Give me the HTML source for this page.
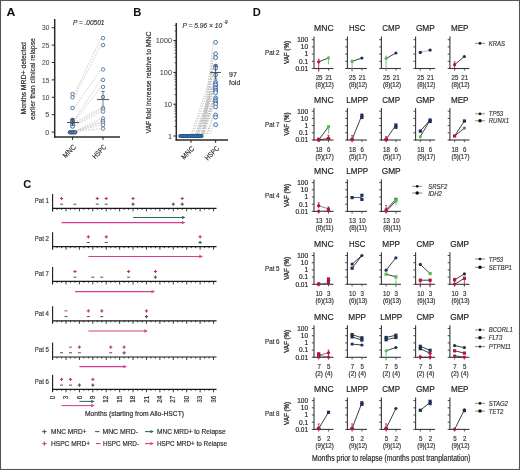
<!DOCTYPE html>
<html><head><meta charset="utf-8"><style>
html,body{margin:0;padding:0;background:#fff;}
body{width:520px;height:470px;overflow:hidden;}
svg{display:block;will-change:transform;filter:blur(0.35px);}
text{font-family:"Liberation Sans",sans-serif;}
</style></head><body>
<svg width="520" height="470" viewBox="0 0 520 470">
<rect x="0" y="0" width="520" height="470" fill="#fff"/>
<text x="6.60" y="16.40" font-size="11.3" text-anchor="start" fill="#111" font-weight="bold" textLength="8.9" lengthAdjust="spacingAndGlyphs">A</text>
<line x1="54.70" y1="19.00" x2="54.70" y2="137.70" stroke="#2b2b2b" stroke-width="1.5"/>
<line x1="54.00" y1="137.00" x2="120.00" y2="137.00" stroke="#2b2b2b" stroke-width="1.5"/>
<line x1="51.70" y1="132.10" x2="54.70" y2="132.10" stroke="#2b2b2b" stroke-width="1"/>
<text x="49.40" y="134.70" font-size="7.3" text-anchor="end" fill="#444" stroke="#444" stroke-width="0.05">0</text>
<line x1="51.70" y1="114.70" x2="54.70" y2="114.70" stroke="#2b2b2b" stroke-width="1"/>
<text x="49.40" y="117.30" font-size="7.3" text-anchor="end" fill="#444" stroke="#444" stroke-width="0.05">5</text>
<line x1="51.70" y1="97.30" x2="54.70" y2="97.30" stroke="#2b2b2b" stroke-width="1"/>
<text x="49.40" y="99.90" font-size="7.3" text-anchor="end" fill="#444" textLength="7.4" lengthAdjust="spacingAndGlyphs" stroke="#444" stroke-width="0.05">10</text>
<line x1="51.70" y1="79.90" x2="54.70" y2="79.90" stroke="#2b2b2b" stroke-width="1"/>
<text x="49.40" y="82.50" font-size="7.3" text-anchor="end" fill="#444" textLength="7.4" lengthAdjust="spacingAndGlyphs" stroke="#444" stroke-width="0.05">15</text>
<line x1="51.70" y1="62.50" x2="54.70" y2="62.50" stroke="#2b2b2b" stroke-width="1"/>
<text x="49.40" y="65.10" font-size="7.3" text-anchor="end" fill="#444" textLength="7.4" lengthAdjust="spacingAndGlyphs" stroke="#444" stroke-width="0.05">20</text>
<line x1="51.70" y1="45.10" x2="54.70" y2="45.10" stroke="#2b2b2b" stroke-width="1"/>
<text x="49.40" y="47.70" font-size="7.3" text-anchor="end" fill="#444" textLength="7.4" lengthAdjust="spacingAndGlyphs" stroke="#444" stroke-width="0.05">25</text>
<line x1="51.70" y1="27.70" x2="54.70" y2="27.70" stroke="#2b2b2b" stroke-width="1"/>
<text x="49.40" y="30.30" font-size="7.3" text-anchor="end" fill="#444" textLength="7.4" lengthAdjust="spacingAndGlyphs" stroke="#444" stroke-width="0.05">30</text>
<text x="25.60" y="78.40" font-size="7.9" text-anchor="middle" fill="#2a2a2a" textLength="72.4" lengthAdjust="spacingAndGlyphs" transform="rotate(-90 25.6 78.4)" stroke="#2a2a2a" stroke-width="0.18">Months MRD+ detected</text>
<text x="34.80" y="79.00" font-size="7.9" text-anchor="middle" fill="#2a2a2a" textLength="81.9" lengthAdjust="spacingAndGlyphs" transform="rotate(-90 34.8 79)" stroke="#2a2a2a" stroke-width="0.18">earlier than clinical relapse</text>
<text x="73.00" y="25.00" font-size="7" text-anchor="start" fill="#333" font-style="italic" textLength="31.4" lengthAdjust="spacingAndGlyphs" stroke="#333" stroke-width="0.18">P = .00501</text>
<line x1="74.50" y1="93.67" x2="101.00" y2="38.14" stroke="#c2c2c2" stroke-width="0.8" stroke-dasharray="1.6 1.1"/>
<line x1="74.50" y1="96.80" x2="101.00" y2="45.10" stroke="#c2c2c2" stroke-width="0.8" stroke-dasharray="1.6 1.1"/>
<line x1="74.50" y1="107.41" x2="101.00" y2="69.46" stroke="#c2c2c2" stroke-width="0.8" stroke-dasharray="1.6 1.1"/>
<line x1="74.50" y1="119.42" x2="101.00" y2="79.90" stroke="#c2c2c2" stroke-width="0.8" stroke-dasharray="1.6 1.1"/>
<line x1="74.50" y1="121.16" x2="101.00" y2="86.86" stroke="#c2c2c2" stroke-width="0.8" stroke-dasharray="1.6 1.1"/>
<line x1="74.50" y1="122.90" x2="101.00" y2="107.91" stroke="#c2c2c2" stroke-width="0.8" stroke-dasharray="1.6 1.1"/>
<line x1="74.50" y1="124.64" x2="101.00" y2="109.48" stroke="#c2c2c2" stroke-width="0.8" stroke-dasharray="1.6 1.1"/>
<line x1="74.50" y1="126.03" x2="101.00" y2="111.57" stroke="#c2c2c2" stroke-width="0.8" stroke-dasharray="1.6 1.1"/>
<line x1="74.50" y1="131.60" x2="101.00" y2="118.53" stroke="#c2c2c2" stroke-width="0.8" stroke-dasharray="1.6 1.1"/>
<line x1="74.50" y1="131.60" x2="101.00" y2="120.96" stroke="#c2c2c2" stroke-width="0.8" stroke-dasharray="1.6 1.1"/>
<line x1="74.50" y1="131.60" x2="101.00" y2="122.70" stroke="#c2c2c2" stroke-width="0.8" stroke-dasharray="1.6 1.1"/>
<line x1="74.50" y1="131.60" x2="101.00" y2="124.90" stroke="#c2c2c2" stroke-width="0.8" stroke-dasharray="1.6 1.1"/>
<line x1="74.50" y1="131.60" x2="101.00" y2="128.62" stroke="#c2c2c2" stroke-width="0.8" stroke-dasharray="1.6 1.1"/>
<circle cx="69.90" cy="132.30" r="1.75" fill="#6d8db3" stroke="#2d4f78" stroke-width="1"/>
<circle cx="71.60" cy="132.30" r="1.75" fill="#6d8db3" stroke="#2d4f78" stroke-width="1"/>
<circle cx="73.40" cy="132.30" r="1.75" fill="#6d8db3" stroke="#2d4f78" stroke-width="1"/>
<circle cx="75.10" cy="132.30" r="1.75" fill="#6d8db3" stroke="#2d4f78" stroke-width="1"/>
<circle cx="72.50" cy="94.17" r="1.75" fill="white" stroke="#55759c" stroke-width="1"/>
<circle cx="72.50" cy="97.30" r="1.75" fill="white" stroke="#55759c" stroke-width="1"/>
<circle cx="72.50" cy="107.91" r="1.75" fill="white" stroke="#55759c" stroke-width="1"/>
<circle cx="72.50" cy="119.92" r="1.75" fill="white" stroke="#3a5a80" stroke-width="1"/>
<circle cx="72.50" cy="120.96" r="1.75" fill="white" stroke="#3a5a80" stroke-width="1"/>
<circle cx="72.50" cy="122.01" r="1.75" fill="white" stroke="#3a5a80" stroke-width="1"/>
<circle cx="72.50" cy="123.40" r="1.75" fill="white" stroke="#3a5a80" stroke-width="1"/>
<circle cx="72.50" cy="124.79" r="1.75" fill="white" stroke="#3a5a80" stroke-width="1"/>
<circle cx="72.50" cy="126.53" r="1.75" fill="white" stroke="#3a5a80" stroke-width="1"/>
<circle cx="103.00" cy="38.14" r="1.75" fill="white" stroke="#55759c" stroke-width="0.9"/>
<circle cx="103.00" cy="45.10" r="1.75" fill="white" stroke="#55759c" stroke-width="0.9"/>
<circle cx="103.00" cy="69.46" r="1.75" fill="white" stroke="#55759c" stroke-width="0.9"/>
<circle cx="103.00" cy="79.90" r="1.75" fill="white" stroke="#55759c" stroke-width="0.9"/>
<circle cx="103.00" cy="86.86" r="1.75" fill="white" stroke="#55759c" stroke-width="0.9"/>
<circle cx="103.00" cy="97.09" r="1.75" fill="white" stroke="#55759c" stroke-width="0.9"/>
<circle cx="103.00" cy="107.91" r="1.75" fill="white" stroke="#55759c" stroke-width="0.9"/>
<circle cx="103.00" cy="109.48" r="1.75" fill="white" stroke="#55759c" stroke-width="0.9"/>
<circle cx="103.00" cy="111.57" r="1.75" fill="white" stroke="#55759c" stroke-width="0.9"/>
<circle cx="103.00" cy="118.53" r="1.75" fill="white" stroke="#55759c" stroke-width="0.9"/>
<circle cx="103.00" cy="120.96" r="1.75" fill="white" stroke="#55759c" stroke-width="0.9"/>
<circle cx="103.00" cy="122.70" r="1.75" fill="white" stroke="#55759c" stroke-width="0.9"/>
<circle cx="103.00" cy="124.90" r="1.75" fill="white" stroke="#55759c" stroke-width="0.9"/>
<circle cx="103.00" cy="128.62" r="1.75" fill="white" stroke="#55759c" stroke-width="0.9"/>
<line x1="66.90" y1="122.50" x2="79.00" y2="122.50" stroke="#3a4352" stroke-width="0.9"/>
<line x1="72.50" y1="126.18" x2="72.50" y2="118.88" stroke="#3a4352" stroke-width="0.8"/>
<line x1="70.70" y1="118.88" x2="74.30" y2="118.88" stroke="#3a4352" stroke-width="0.8"/>
<line x1="97.00" y1="99.60" x2="109.10" y2="99.60" stroke="#3a4352" stroke-width="0.9"/>
<line x1="103.00" y1="91.40" x2="103.00" y2="106.00" stroke="#556070" stroke-width="0.8"/>
<line x1="101.20" y1="91.40" x2="104.80" y2="91.40" stroke="#556070" stroke-width="0.9"/>
<line x1="72.50" y1="137.00" x2="72.50" y2="139.80" stroke="#2b2b2b" stroke-width="1.1"/>
<line x1="103.00" y1="137.00" x2="103.00" y2="139.80" stroke="#2b2b2b" stroke-width="1.1"/>
<text x="76.40" y="147.50" font-size="7.2" text-anchor="end" fill="#333" textLength="15.5" lengthAdjust="spacingAndGlyphs" transform="rotate(-45 76.4 147.5)" stroke="#333" stroke-width="0.18">MNC</text>
<text x="106.90" y="147.50" font-size="7.2" text-anchor="end" fill="#333" textLength="16.5" lengthAdjust="spacingAndGlyphs" transform="rotate(-45 106.9 147.5)" stroke="#333" stroke-width="0.18">HSPC</text>
<text x="133.20" y="16.30" font-size="11.2" text-anchor="start" fill="#111" font-weight="bold">B</text>
<line x1="176.30" y1="23.00" x2="176.30" y2="140.70" stroke="#2b2b2b" stroke-width="1.5"/>
<line x1="175.60" y1="140.00" x2="228.00" y2="140.00" stroke="#2b2b2b" stroke-width="1.5"/>
<line x1="173.30" y1="136.00" x2="176.30" y2="136.00" stroke="#2b2b2b" stroke-width="1"/>
<text x="172.00" y="138.60" font-size="7.3" text-anchor="end" fill="#444" stroke="#444" stroke-width="0.05">1</text>
<line x1="174.50" y1="126.43" x2="176.30" y2="126.43" stroke="#2b2b2b" stroke-width="0.7"/>
<line x1="174.50" y1="120.83" x2="176.30" y2="120.83" stroke="#2b2b2b" stroke-width="0.7"/>
<line x1="174.50" y1="116.85" x2="176.30" y2="116.85" stroke="#2b2b2b" stroke-width="0.7"/>
<line x1="174.50" y1="113.77" x2="176.30" y2="113.77" stroke="#2b2b2b" stroke-width="0.7"/>
<line x1="174.50" y1="111.25" x2="176.30" y2="111.25" stroke="#2b2b2b" stroke-width="0.7"/>
<line x1="174.50" y1="109.13" x2="176.30" y2="109.13" stroke="#2b2b2b" stroke-width="0.7"/>
<line x1="174.50" y1="107.28" x2="176.30" y2="107.28" stroke="#2b2b2b" stroke-width="0.7"/>
<line x1="174.50" y1="105.66" x2="176.30" y2="105.66" stroke="#2b2b2b" stroke-width="0.7"/>
<line x1="173.30" y1="104.20" x2="176.30" y2="104.20" stroke="#2b2b2b" stroke-width="1"/>
<text x="172.00" y="106.80" font-size="7.3" text-anchor="end" fill="#444" stroke="#444" stroke-width="0.05">10</text>
<line x1="174.50" y1="94.63" x2="176.30" y2="94.63" stroke="#2b2b2b" stroke-width="0.7"/>
<line x1="174.50" y1="89.03" x2="176.30" y2="89.03" stroke="#2b2b2b" stroke-width="0.7"/>
<line x1="174.50" y1="85.05" x2="176.30" y2="85.05" stroke="#2b2b2b" stroke-width="0.7"/>
<line x1="174.50" y1="81.97" x2="176.30" y2="81.97" stroke="#2b2b2b" stroke-width="0.7"/>
<line x1="174.50" y1="79.45" x2="176.30" y2="79.45" stroke="#2b2b2b" stroke-width="0.7"/>
<line x1="174.50" y1="77.33" x2="176.30" y2="77.33" stroke="#2b2b2b" stroke-width="0.7"/>
<line x1="174.50" y1="75.48" x2="176.30" y2="75.48" stroke="#2b2b2b" stroke-width="0.7"/>
<line x1="174.50" y1="73.86" x2="176.30" y2="73.86" stroke="#2b2b2b" stroke-width="0.7"/>
<line x1="173.30" y1="72.40" x2="176.30" y2="72.40" stroke="#2b2b2b" stroke-width="1"/>
<text x="172.00" y="75.00" font-size="7.3" text-anchor="end" fill="#444" stroke="#444" stroke-width="0.05">100</text>
<line x1="174.50" y1="62.83" x2="176.30" y2="62.83" stroke="#2b2b2b" stroke-width="0.7"/>
<line x1="174.50" y1="57.23" x2="176.30" y2="57.23" stroke="#2b2b2b" stroke-width="0.7"/>
<line x1="174.50" y1="53.25" x2="176.30" y2="53.25" stroke="#2b2b2b" stroke-width="0.7"/>
<line x1="174.50" y1="50.17" x2="176.30" y2="50.17" stroke="#2b2b2b" stroke-width="0.7"/>
<line x1="174.50" y1="47.65" x2="176.30" y2="47.65" stroke="#2b2b2b" stroke-width="0.7"/>
<line x1="174.50" y1="45.53" x2="176.30" y2="45.53" stroke="#2b2b2b" stroke-width="0.7"/>
<line x1="174.50" y1="43.68" x2="176.30" y2="43.68" stroke="#2b2b2b" stroke-width="0.7"/>
<line x1="174.50" y1="42.06" x2="176.30" y2="42.06" stroke="#2b2b2b" stroke-width="0.7"/>
<line x1="173.30" y1="40.60" x2="176.30" y2="40.60" stroke="#2b2b2b" stroke-width="1"/>
<text x="172.00" y="43.20" font-size="7.3" text-anchor="end" fill="#444" stroke="#444" stroke-width="0.05">1000</text>
<line x1="174.50" y1="31.03" x2="176.30" y2="31.03" stroke="#2b2b2b" stroke-width="0.7"/>
<line x1="174.50" y1="25.43" x2="176.30" y2="25.43" stroke="#2b2b2b" stroke-width="0.7"/>
<text x="150.90" y="82.60" font-size="7.9" text-anchor="middle" fill="#2a2a2a" textLength="102" lengthAdjust="spacingAndGlyphs" transform="rotate(-90 150.9 82.6)" stroke="#2a2a2a" stroke-width="0.18">VAF fold increase relative to MNC</text>
<text x="182.60" y="27.60" font-size="6.8" text-anchor="start" fill="#3a3a3a" font-style="italic" textLength="39.5" lengthAdjust="spacingAndGlyphs" stroke="#3a3a3a" stroke-width="0.18">P = 5.96 × 10</text>
<text x="223.40" y="23.60" font-size="4.5" text-anchor="start" fill="#3a3a3a" font-style="italic" stroke="#3a3a3a" stroke-width="0.18">-9</text>
<line x1="202.00" y1="134.00" x2="213.30" y2="42.30" stroke="#bdbdbd" stroke-width="0.9" stroke-dasharray="1.4 1.2"/>
<line x1="202.80" y1="134.00" x2="213.30" y2="53.78" stroke="#bdbdbd" stroke-width="0.9" stroke-dasharray="1.4 1.2"/>
<line x1="203.60" y1="134.00" x2="213.30" y2="57.60" stroke="#bdbdbd" stroke-width="0.9" stroke-dasharray="1.4 1.2"/>
<line x1="204.40" y1="134.00" x2="213.30" y2="66.08" stroke="#bdbdbd" stroke-width="0.9" stroke-dasharray="1.4 1.2"/>
<line x1="191.50" y1="134.00" x2="213.30" y2="68.15" stroke="#bdbdbd" stroke-width="0.9" stroke-dasharray="1.4 1.2"/>
<line x1="192.95" y1="134.00" x2="213.30" y2="74.97" stroke="#bdbdbd" stroke-width="0.9" stroke-dasharray="1.4 1.2"/>
<line x1="195.46" y1="134.00" x2="213.30" y2="82.25" stroke="#bdbdbd" stroke-width="0.9" stroke-dasharray="1.4 1.2"/>
<line x1="195.97" y1="134.00" x2="213.30" y2="83.74" stroke="#bdbdbd" stroke-width="0.9" stroke-dasharray="1.4 1.2"/>
<line x1="196.42" y1="134.00" x2="213.30" y2="85.05" stroke="#bdbdbd" stroke-width="0.9" stroke-dasharray="1.4 1.2"/>
<line x1="197.20" y1="134.00" x2="213.30" y2="87.30" stroke="#bdbdbd" stroke-width="0.9" stroke-dasharray="1.4 1.2"/>
<line x1="197.48" y1="134.00" x2="213.30" y2="88.14" stroke="#bdbdbd" stroke-width="0.9" stroke-dasharray="1.4 1.2"/>
<line x1="198.12" y1="134.00" x2="213.30" y2="89.98" stroke="#bdbdbd" stroke-width="0.9" stroke-dasharray="1.4 1.2"/>
<line x1="198.47" y1="134.00" x2="213.30" y2="91.00" stroke="#bdbdbd" stroke-width="0.9" stroke-dasharray="1.4 1.2"/>
<line x1="199.06" y1="134.00" x2="213.30" y2="92.70" stroke="#bdbdbd" stroke-width="0.9" stroke-dasharray="1.4 1.2"/>
<line x1="200.88" y1="134.00" x2="213.30" y2="97.97" stroke="#bdbdbd" stroke-width="0.9" stroke-dasharray="1.4 1.2"/>
<line x1="201.42" y1="134.00" x2="213.30" y2="99.55" stroke="#bdbdbd" stroke-width="0.9" stroke-dasharray="1.4 1.2"/>
<line x1="201.92" y1="134.00" x2="213.30" y2="101.01" stroke="#bdbdbd" stroke-width="0.9" stroke-dasharray="1.4 1.2"/>
<line x1="202.57" y1="134.00" x2="213.30" y2="102.88" stroke="#bdbdbd" stroke-width="0.9" stroke-dasharray="1.4 1.2"/>
<line x1="202.98" y1="134.00" x2="213.30" y2="104.06" stroke="#bdbdbd" stroke-width="0.9" stroke-dasharray="1.4 1.2"/>
<line x1="203.97" y1="134.00" x2="213.30" y2="106.94" stroke="#bdbdbd" stroke-width="0.9" stroke-dasharray="1.4 1.2"/>
<line x1="206.72" y1="134.00" x2="213.30" y2="114.92" stroke="#bdbdbd" stroke-width="0.9" stroke-dasharray="1.4 1.2"/>
<line x1="207.51" y1="134.00" x2="213.30" y2="117.20" stroke="#bdbdbd" stroke-width="0.9" stroke-dasharray="1.4 1.2"/>
<line x1="210.09" y1="134.00" x2="213.30" y2="124.68" stroke="#bdbdbd" stroke-width="0.9" stroke-dasharray="1.4 1.2"/>
<rect x="178.2" y="134" width="25.4" height="4" rx="2" fill="#22578f"/>
<circle cx="180.30" cy="136.00" r="0.7" fill="#4f80b5" stroke="none" stroke-width="1"/>
<circle cx="182.23" cy="136.00" r="0.7" fill="#4f80b5" stroke="none" stroke-width="1"/>
<circle cx="184.16" cy="136.00" r="0.7" fill="#4f80b5" stroke="none" stroke-width="1"/>
<circle cx="186.09" cy="136.00" r="0.7" fill="#4f80b5" stroke="none" stroke-width="1"/>
<circle cx="188.02" cy="136.00" r="0.7" fill="#4f80b5" stroke="none" stroke-width="1"/>
<circle cx="189.95" cy="136.00" r="0.7" fill="#4f80b5" stroke="none" stroke-width="1"/>
<circle cx="191.88" cy="136.00" r="0.7" fill="#4f80b5" stroke="none" stroke-width="1"/>
<circle cx="193.81" cy="136.00" r="0.7" fill="#4f80b5" stroke="none" stroke-width="1"/>
<circle cx="195.74" cy="136.00" r="0.7" fill="#4f80b5" stroke="none" stroke-width="1"/>
<circle cx="197.67" cy="136.00" r="0.7" fill="#4f80b5" stroke="none" stroke-width="1"/>
<circle cx="199.60" cy="136.00" r="0.7" fill="#4f80b5" stroke="none" stroke-width="1"/>
<circle cx="201.53" cy="136.00" r="0.7" fill="#4f80b5" stroke="none" stroke-width="1"/>
<circle cx="215.60" cy="42.30" r="1.9" fill="white" stroke="#3f6ea8" stroke-width="1"/>
<circle cx="215.60" cy="53.78" r="1.9" fill="white" stroke="#3f6ea8" stroke-width="1"/>
<circle cx="215.60" cy="57.60" r="1.9" fill="white" stroke="#3f6ea8" stroke-width="1"/>
<circle cx="215.60" cy="66.08" r="1.9" fill="white" stroke="#3f6ea8" stroke-width="1"/>
<circle cx="215.60" cy="68.15" r="1.9" fill="white" stroke="#3f6ea8" stroke-width="1"/>
<circle cx="215.60" cy="74.97" r="1.9" fill="white" stroke="#3f6ea8" stroke-width="1"/>
<circle cx="215.60" cy="82.25" r="1.9" fill="white" stroke="#3f6ea8" stroke-width="1"/>
<circle cx="215.60" cy="83.74" r="1.9" fill="white" stroke="#3f6ea8" stroke-width="1"/>
<circle cx="215.60" cy="85.05" r="1.9" fill="white" stroke="#3f6ea8" stroke-width="1"/>
<circle cx="215.60" cy="87.30" r="1.9" fill="white" stroke="#3f6ea8" stroke-width="1"/>
<circle cx="215.60" cy="88.14" r="1.9" fill="white" stroke="#3f6ea8" stroke-width="1"/>
<circle cx="215.60" cy="89.98" r="1.9" fill="white" stroke="#3f6ea8" stroke-width="1"/>
<circle cx="215.60" cy="91.00" r="1.9" fill="white" stroke="#3f6ea8" stroke-width="1"/>
<circle cx="215.60" cy="92.70" r="1.9" fill="white" stroke="#3f6ea8" stroke-width="1"/>
<circle cx="215.60" cy="97.97" r="1.9" fill="white" stroke="#3f6ea8" stroke-width="1"/>
<circle cx="215.60" cy="99.55" r="1.9" fill="white" stroke="#3f6ea8" stroke-width="1"/>
<circle cx="215.60" cy="101.01" r="1.9" fill="white" stroke="#3f6ea8" stroke-width="1"/>
<circle cx="215.60" cy="102.88" r="1.9" fill="white" stroke="#3f6ea8" stroke-width="1"/>
<circle cx="215.60" cy="104.06" r="1.9" fill="white" stroke="#3f6ea8" stroke-width="1"/>
<circle cx="215.60" cy="106.94" r="1.9" fill="white" stroke="#3f6ea8" stroke-width="1"/>
<circle cx="215.60" cy="114.92" r="1.9" fill="white" stroke="#3f6ea8" stroke-width="1"/>
<circle cx="215.60" cy="117.20" r="1.9" fill="white" stroke="#3f6ea8" stroke-width="1"/>
<circle cx="215.60" cy="124.68" r="1.9" fill="white" stroke="#3f6ea8" stroke-width="1"/>
<line x1="210.20" y1="72.50" x2="220.90" y2="72.50" stroke="#3a4352" stroke-width="0.9"/>
<line x1="215.60" y1="65.00" x2="215.60" y2="79.00" stroke="#3a4a60" stroke-width="0.9"/>
<line x1="213.80" y1="65.00" x2="217.40" y2="65.00" stroke="#3a4a60" stroke-width="0.9"/>
<line x1="213.80" y1="79.00" x2="217.40" y2="79.00" stroke="#3a4a60" stroke-width="0.9"/>
<text x="229.00" y="76.80" font-size="7" text-anchor="start" fill="#333" stroke="#333" stroke-width="0.18">97</text>
<text x="229.00" y="84.50" font-size="7" text-anchor="start" fill="#333" stroke="#333" stroke-width="0.18">fold</text>
<line x1="191.00" y1="140.00" x2="191.00" y2="142.80" stroke="#2b2b2b" stroke-width="1.1"/>
<line x1="215.60" y1="140.00" x2="215.60" y2="142.80" stroke="#2b2b2b" stroke-width="1.1"/>
<text x="194.90" y="149.00" font-size="7.2" text-anchor="end" fill="#333" textLength="15.5" lengthAdjust="spacingAndGlyphs" transform="rotate(-45 194.9 149)" stroke="#333" stroke-width="0.18">MNC</text>
<text x="219.50" y="149.00" font-size="7.2" text-anchor="end" fill="#333" textLength="16.5" lengthAdjust="spacingAndGlyphs" transform="rotate(-45 219.5 149)" stroke="#333" stroke-width="0.18">HSPC</text>
<text x="23.30" y="187.90" font-size="11.2" text-anchor="start" fill="#111" font-weight="bold">C</text>
<line x1="52.60" y1="193.90" x2="52.60" y2="211.40" stroke="#1a1a1a" stroke-width="1.1"/>
<line x1="52.10" y1="208.40" x2="216.52" y2="208.40" stroke="#1a1a1a" stroke-width="1.2"/>
<line x1="57.07" y1="208.40" x2="57.07" y2="209.90" stroke="#1a1a1a" stroke-width="0.85"/>
<line x1="61.54" y1="208.40" x2="61.54" y2="209.90" stroke="#1a1a1a" stroke-width="0.85"/>
<line x1="66.01" y1="208.40" x2="66.01" y2="211.40" stroke="#1a1a1a" stroke-width="0.85"/>
<line x1="70.48" y1="208.40" x2="70.48" y2="209.90" stroke="#1a1a1a" stroke-width="0.85"/>
<line x1="74.95" y1="208.40" x2="74.95" y2="209.90" stroke="#1a1a1a" stroke-width="0.85"/>
<line x1="79.42" y1="208.40" x2="79.42" y2="211.40" stroke="#1a1a1a" stroke-width="0.85"/>
<line x1="83.89" y1="208.40" x2="83.89" y2="209.90" stroke="#1a1a1a" stroke-width="0.85"/>
<line x1="88.36" y1="208.40" x2="88.36" y2="209.90" stroke="#1a1a1a" stroke-width="0.85"/>
<line x1="92.83" y1="208.40" x2="92.83" y2="211.40" stroke="#1a1a1a" stroke-width="0.85"/>
<line x1="97.30" y1="208.40" x2="97.30" y2="209.90" stroke="#1a1a1a" stroke-width="0.85"/>
<line x1="101.77" y1="208.40" x2="101.77" y2="209.90" stroke="#1a1a1a" stroke-width="0.85"/>
<line x1="106.24" y1="208.40" x2="106.24" y2="211.40" stroke="#1a1a1a" stroke-width="0.85"/>
<line x1="110.71" y1="208.40" x2="110.71" y2="209.90" stroke="#1a1a1a" stroke-width="0.85"/>
<line x1="115.18" y1="208.40" x2="115.18" y2="209.90" stroke="#1a1a1a" stroke-width="0.85"/>
<line x1="119.65" y1="208.40" x2="119.65" y2="211.40" stroke="#1a1a1a" stroke-width="0.85"/>
<line x1="124.12" y1="208.40" x2="124.12" y2="209.90" stroke="#1a1a1a" stroke-width="0.85"/>
<line x1="128.59" y1="208.40" x2="128.59" y2="209.90" stroke="#1a1a1a" stroke-width="0.85"/>
<line x1="133.06" y1="208.40" x2="133.06" y2="211.40" stroke="#1a1a1a" stroke-width="0.85"/>
<line x1="137.53" y1="208.40" x2="137.53" y2="209.90" stroke="#1a1a1a" stroke-width="0.85"/>
<line x1="142.00" y1="208.40" x2="142.00" y2="209.90" stroke="#1a1a1a" stroke-width="0.85"/>
<line x1="146.47" y1="208.40" x2="146.47" y2="211.40" stroke="#1a1a1a" stroke-width="0.85"/>
<line x1="150.94" y1="208.40" x2="150.94" y2="209.90" stroke="#1a1a1a" stroke-width="0.85"/>
<line x1="155.41" y1="208.40" x2="155.41" y2="209.90" stroke="#1a1a1a" stroke-width="0.85"/>
<line x1="159.88" y1="208.40" x2="159.88" y2="211.40" stroke="#1a1a1a" stroke-width="0.85"/>
<line x1="164.35" y1="208.40" x2="164.35" y2="209.90" stroke="#1a1a1a" stroke-width="0.85"/>
<line x1="168.82" y1="208.40" x2="168.82" y2="209.90" stroke="#1a1a1a" stroke-width="0.85"/>
<line x1="173.29" y1="208.40" x2="173.29" y2="211.40" stroke="#1a1a1a" stroke-width="0.85"/>
<line x1="177.76" y1="208.40" x2="177.76" y2="209.90" stroke="#1a1a1a" stroke-width="0.85"/>
<line x1="182.23" y1="208.40" x2="182.23" y2="209.90" stroke="#1a1a1a" stroke-width="0.85"/>
<line x1="186.70" y1="208.40" x2="186.70" y2="211.40" stroke="#1a1a1a" stroke-width="0.85"/>
<line x1="191.17" y1="208.40" x2="191.17" y2="209.90" stroke="#1a1a1a" stroke-width="0.85"/>
<line x1="195.64" y1="208.40" x2="195.64" y2="209.90" stroke="#1a1a1a" stroke-width="0.85"/>
<line x1="200.11" y1="208.40" x2="200.11" y2="211.40" stroke="#1a1a1a" stroke-width="0.85"/>
<line x1="204.58" y1="208.40" x2="204.58" y2="209.90" stroke="#1a1a1a" stroke-width="0.85"/>
<line x1="209.05" y1="208.40" x2="209.05" y2="209.90" stroke="#1a1a1a" stroke-width="0.85"/>
<line x1="213.52" y1="208.40" x2="213.52" y2="211.40" stroke="#1a1a1a" stroke-width="0.85"/>
<text x="49.00" y="203.10" font-size="6.8" text-anchor="end" fill="#3a3a3a" textLength="14.2" lengthAdjust="spacingAndGlyphs" stroke="#3a3a3a" stroke-width="0.18">Pat 1</text>
<line x1="59.94" y1="198.50" x2="63.14" y2="198.50" stroke="#c2306f" stroke-width="1.1"/>
<line x1="61.54" y1="196.90" x2="61.54" y2="200.10" stroke="#c2306f" stroke-width="1.1"/>
<line x1="60.04" y1="204.20" x2="63.04" y2="204.20" stroke="#3a5a50" stroke-width="1"/>
<line x1="73.45" y1="204.20" x2="76.45" y2="204.20" stroke="#3a5a50" stroke-width="1"/>
<line x1="95.70" y1="198.50" x2="98.90" y2="198.50" stroke="#c2306f" stroke-width="1.1"/>
<line x1="97.30" y1="196.90" x2="97.30" y2="200.10" stroke="#c2306f" stroke-width="1.1"/>
<line x1="95.80" y1="204.20" x2="98.80" y2="204.20" stroke="#3a5a50" stroke-width="1"/>
<line x1="104.64" y1="198.50" x2="107.84" y2="198.50" stroke="#c2306f" stroke-width="1.1"/>
<line x1="106.24" y1="196.90" x2="106.24" y2="200.10" stroke="#c2306f" stroke-width="1.1"/>
<line x1="104.74" y1="204.20" x2="107.74" y2="204.20" stroke="#3a5a50" stroke-width="1"/>
<line x1="131.46" y1="198.50" x2="134.66" y2="198.50" stroke="#c2306f" stroke-width="1.1"/>
<line x1="133.06" y1="196.90" x2="133.06" y2="200.10" stroke="#c2306f" stroke-width="1.1"/>
<line x1="131.46" y1="204.20" x2="134.66" y2="204.20" stroke="#3a5a50" stroke-width="1.1"/>
<line x1="133.06" y1="202.60" x2="133.06" y2="205.80" stroke="#3a5a50" stroke-width="1.1"/>
<line x1="171.69" y1="204.20" x2="174.89" y2="204.20" stroke="#3a5a50" stroke-width="1.1"/>
<line x1="173.29" y1="202.60" x2="173.29" y2="205.80" stroke="#3a5a50" stroke-width="1.1"/>
<line x1="180.63" y1="198.50" x2="183.83" y2="198.50" stroke="#c2306f" stroke-width="1.1"/>
<line x1="182.23" y1="196.90" x2="182.23" y2="200.10" stroke="#c2306f" stroke-width="1.1"/>
<line x1="180.63" y1="204.20" x2="183.83" y2="204.20" stroke="#3a5a50" stroke-width="1.1"/>
<line x1="182.23" y1="202.60" x2="182.23" y2="205.80" stroke="#3a5a50" stroke-width="1.1"/>
<line x1="133.06" y1="217.50" x2="182.91" y2="217.50" stroke="#2f6a58" stroke-width="1.05"/>
<path d="M185.51 217.50 L181.91 215.80 L181.91 219.20 Z" fill="#2f6a58"/>
<line x1="61.54" y1="222.60" x2="182.91" y2="222.60" stroke="#d83c8c" stroke-width="1.05"/>
<path d="M185.51 222.60 L181.91 220.90 L181.91 224.30 Z" fill="#d83c8c"/>
<line x1="52.60" y1="232.20" x2="52.60" y2="249.70" stroke="#1a1a1a" stroke-width="1.1"/>
<line x1="52.10" y1="246.70" x2="216.52" y2="246.70" stroke="#1a1a1a" stroke-width="1.2"/>
<line x1="57.07" y1="246.70" x2="57.07" y2="248.20" stroke="#1a1a1a" stroke-width="0.85"/>
<line x1="61.54" y1="246.70" x2="61.54" y2="248.20" stroke="#1a1a1a" stroke-width="0.85"/>
<line x1="66.01" y1="246.70" x2="66.01" y2="249.70" stroke="#1a1a1a" stroke-width="0.85"/>
<line x1="70.48" y1="246.70" x2="70.48" y2="248.20" stroke="#1a1a1a" stroke-width="0.85"/>
<line x1="74.95" y1="246.70" x2="74.95" y2="248.20" stroke="#1a1a1a" stroke-width="0.85"/>
<line x1="79.42" y1="246.70" x2="79.42" y2="249.70" stroke="#1a1a1a" stroke-width="0.85"/>
<line x1="83.89" y1="246.70" x2="83.89" y2="248.20" stroke="#1a1a1a" stroke-width="0.85"/>
<line x1="88.36" y1="246.70" x2="88.36" y2="248.20" stroke="#1a1a1a" stroke-width="0.85"/>
<line x1="92.83" y1="246.70" x2="92.83" y2="249.70" stroke="#1a1a1a" stroke-width="0.85"/>
<line x1="97.30" y1="246.70" x2="97.30" y2="248.20" stroke="#1a1a1a" stroke-width="0.85"/>
<line x1="101.77" y1="246.70" x2="101.77" y2="248.20" stroke="#1a1a1a" stroke-width="0.85"/>
<line x1="106.24" y1="246.70" x2="106.24" y2="249.70" stroke="#1a1a1a" stroke-width="0.85"/>
<line x1="110.71" y1="246.70" x2="110.71" y2="248.20" stroke="#1a1a1a" stroke-width="0.85"/>
<line x1="115.18" y1="246.70" x2="115.18" y2="248.20" stroke="#1a1a1a" stroke-width="0.85"/>
<line x1="119.65" y1="246.70" x2="119.65" y2="249.70" stroke="#1a1a1a" stroke-width="0.85"/>
<line x1="124.12" y1="246.70" x2="124.12" y2="248.20" stroke="#1a1a1a" stroke-width="0.85"/>
<line x1="128.59" y1="246.70" x2="128.59" y2="248.20" stroke="#1a1a1a" stroke-width="0.85"/>
<line x1="133.06" y1="246.70" x2="133.06" y2="249.70" stroke="#1a1a1a" stroke-width="0.85"/>
<line x1="137.53" y1="246.70" x2="137.53" y2="248.20" stroke="#1a1a1a" stroke-width="0.85"/>
<line x1="142.00" y1="246.70" x2="142.00" y2="248.20" stroke="#1a1a1a" stroke-width="0.85"/>
<line x1="146.47" y1="246.70" x2="146.47" y2="249.70" stroke="#1a1a1a" stroke-width="0.85"/>
<line x1="150.94" y1="246.70" x2="150.94" y2="248.20" stroke="#1a1a1a" stroke-width="0.85"/>
<line x1="155.41" y1="246.70" x2="155.41" y2="248.20" stroke="#1a1a1a" stroke-width="0.85"/>
<line x1="159.88" y1="246.70" x2="159.88" y2="249.70" stroke="#1a1a1a" stroke-width="0.85"/>
<line x1="164.35" y1="246.70" x2="164.35" y2="248.20" stroke="#1a1a1a" stroke-width="0.85"/>
<line x1="168.82" y1="246.70" x2="168.82" y2="248.20" stroke="#1a1a1a" stroke-width="0.85"/>
<line x1="173.29" y1="246.70" x2="173.29" y2="249.70" stroke="#1a1a1a" stroke-width="0.85"/>
<line x1="177.76" y1="246.70" x2="177.76" y2="248.20" stroke="#1a1a1a" stroke-width="0.85"/>
<line x1="182.23" y1="246.70" x2="182.23" y2="248.20" stroke="#1a1a1a" stroke-width="0.85"/>
<line x1="186.70" y1="246.70" x2="186.70" y2="249.70" stroke="#1a1a1a" stroke-width="0.85"/>
<line x1="191.17" y1="246.70" x2="191.17" y2="248.20" stroke="#1a1a1a" stroke-width="0.85"/>
<line x1="195.64" y1="246.70" x2="195.64" y2="248.20" stroke="#1a1a1a" stroke-width="0.85"/>
<line x1="200.11" y1="246.70" x2="200.11" y2="249.70" stroke="#1a1a1a" stroke-width="0.85"/>
<line x1="204.58" y1="246.70" x2="204.58" y2="248.20" stroke="#1a1a1a" stroke-width="0.85"/>
<line x1="209.05" y1="246.70" x2="209.05" y2="248.20" stroke="#1a1a1a" stroke-width="0.85"/>
<line x1="213.52" y1="246.70" x2="213.52" y2="249.70" stroke="#1a1a1a" stroke-width="0.85"/>
<text x="49.00" y="241.40" font-size="6.8" text-anchor="end" fill="#3a3a3a" textLength="14.2" lengthAdjust="spacingAndGlyphs" stroke="#3a3a3a" stroke-width="0.18">Pat 2</text>
<line x1="86.76" y1="236.80" x2="89.96" y2="236.80" stroke="#c2306f" stroke-width="1.1"/>
<line x1="88.36" y1="235.20" x2="88.36" y2="238.40" stroke="#c2306f" stroke-width="1.1"/>
<line x1="86.86" y1="242.50" x2="89.86" y2="242.50" stroke="#3a5a50" stroke-width="1"/>
<line x1="104.64" y1="236.80" x2="107.84" y2="236.80" stroke="#c2306f" stroke-width="1.1"/>
<line x1="106.24" y1="235.20" x2="106.24" y2="238.40" stroke="#c2306f" stroke-width="1.1"/>
<line x1="104.74" y1="242.50" x2="107.74" y2="242.50" stroke="#3a5a50" stroke-width="1"/>
<line x1="198.51" y1="236.80" x2="201.71" y2="236.80" stroke="#c2306f" stroke-width="1.1"/>
<line x1="200.11" y1="235.20" x2="200.11" y2="238.40" stroke="#c2306f" stroke-width="1.1"/>
<line x1="198.51" y1="242.50" x2="201.71" y2="242.50" stroke="#3a5a50" stroke-width="1.1"/>
<line x1="200.11" y1="240.90" x2="200.11" y2="244.10" stroke="#3a5a50" stroke-width="1.1"/>
<line x1="88.36" y1="256.50" x2="200.34" y2="256.50" stroke="#d83c8c" stroke-width="1.05"/>
<path d="M202.94 256.50 L199.34 254.80 L199.34 258.20 Z" fill="#d83c8c"/>
<line x1="52.60" y1="266.90" x2="52.60" y2="284.40" stroke="#1a1a1a" stroke-width="1.1"/>
<line x1="52.10" y1="281.40" x2="216.52" y2="281.40" stroke="#1a1a1a" stroke-width="1.2"/>
<line x1="57.07" y1="281.40" x2="57.07" y2="282.90" stroke="#1a1a1a" stroke-width="0.85"/>
<line x1="61.54" y1="281.40" x2="61.54" y2="282.90" stroke="#1a1a1a" stroke-width="0.85"/>
<line x1="66.01" y1="281.40" x2="66.01" y2="284.40" stroke="#1a1a1a" stroke-width="0.85"/>
<line x1="70.48" y1="281.40" x2="70.48" y2="282.90" stroke="#1a1a1a" stroke-width="0.85"/>
<line x1="74.95" y1="281.40" x2="74.95" y2="282.90" stroke="#1a1a1a" stroke-width="0.85"/>
<line x1="79.42" y1="281.40" x2="79.42" y2="284.40" stroke="#1a1a1a" stroke-width="0.85"/>
<line x1="83.89" y1="281.40" x2="83.89" y2="282.90" stroke="#1a1a1a" stroke-width="0.85"/>
<line x1="88.36" y1="281.40" x2="88.36" y2="282.90" stroke="#1a1a1a" stroke-width="0.85"/>
<line x1="92.83" y1="281.40" x2="92.83" y2="284.40" stroke="#1a1a1a" stroke-width="0.85"/>
<line x1="97.30" y1="281.40" x2="97.30" y2="282.90" stroke="#1a1a1a" stroke-width="0.85"/>
<line x1="101.77" y1="281.40" x2="101.77" y2="282.90" stroke="#1a1a1a" stroke-width="0.85"/>
<line x1="106.24" y1="281.40" x2="106.24" y2="284.40" stroke="#1a1a1a" stroke-width="0.85"/>
<line x1="110.71" y1="281.40" x2="110.71" y2="282.90" stroke="#1a1a1a" stroke-width="0.85"/>
<line x1="115.18" y1="281.40" x2="115.18" y2="282.90" stroke="#1a1a1a" stroke-width="0.85"/>
<line x1="119.65" y1="281.40" x2="119.65" y2="284.40" stroke="#1a1a1a" stroke-width="0.85"/>
<line x1="124.12" y1="281.40" x2="124.12" y2="282.90" stroke="#1a1a1a" stroke-width="0.85"/>
<line x1="128.59" y1="281.40" x2="128.59" y2="282.90" stroke="#1a1a1a" stroke-width="0.85"/>
<line x1="133.06" y1="281.40" x2="133.06" y2="284.40" stroke="#1a1a1a" stroke-width="0.85"/>
<line x1="137.53" y1="281.40" x2="137.53" y2="282.90" stroke="#1a1a1a" stroke-width="0.85"/>
<line x1="142.00" y1="281.40" x2="142.00" y2="282.90" stroke="#1a1a1a" stroke-width="0.85"/>
<line x1="146.47" y1="281.40" x2="146.47" y2="284.40" stroke="#1a1a1a" stroke-width="0.85"/>
<line x1="150.94" y1="281.40" x2="150.94" y2="282.90" stroke="#1a1a1a" stroke-width="0.85"/>
<line x1="155.41" y1="281.40" x2="155.41" y2="282.90" stroke="#1a1a1a" stroke-width="0.85"/>
<line x1="159.88" y1="281.40" x2="159.88" y2="284.40" stroke="#1a1a1a" stroke-width="0.85"/>
<line x1="164.35" y1="281.40" x2="164.35" y2="282.90" stroke="#1a1a1a" stroke-width="0.85"/>
<line x1="168.82" y1="281.40" x2="168.82" y2="282.90" stroke="#1a1a1a" stroke-width="0.85"/>
<line x1="173.29" y1="281.40" x2="173.29" y2="284.40" stroke="#1a1a1a" stroke-width="0.85"/>
<line x1="177.76" y1="281.40" x2="177.76" y2="282.90" stroke="#1a1a1a" stroke-width="0.85"/>
<line x1="182.23" y1="281.40" x2="182.23" y2="282.90" stroke="#1a1a1a" stroke-width="0.85"/>
<line x1="186.70" y1="281.40" x2="186.70" y2="284.40" stroke="#1a1a1a" stroke-width="0.85"/>
<line x1="191.17" y1="281.40" x2="191.17" y2="282.90" stroke="#1a1a1a" stroke-width="0.85"/>
<line x1="195.64" y1="281.40" x2="195.64" y2="282.90" stroke="#1a1a1a" stroke-width="0.85"/>
<line x1="200.11" y1="281.40" x2="200.11" y2="284.40" stroke="#1a1a1a" stroke-width="0.85"/>
<line x1="204.58" y1="281.40" x2="204.58" y2="282.90" stroke="#1a1a1a" stroke-width="0.85"/>
<line x1="209.05" y1="281.40" x2="209.05" y2="282.90" stroke="#1a1a1a" stroke-width="0.85"/>
<line x1="213.52" y1="281.40" x2="213.52" y2="284.40" stroke="#1a1a1a" stroke-width="0.85"/>
<text x="49.00" y="276.10" font-size="6.8" text-anchor="end" fill="#3a3a3a" textLength="14.2" lengthAdjust="spacingAndGlyphs" stroke="#3a3a3a" stroke-width="0.18">Pat 7</text>
<line x1="73.35" y1="271.50" x2="76.55" y2="271.50" stroke="#c2306f" stroke-width="1.1"/>
<line x1="74.95" y1="269.90" x2="74.95" y2="273.10" stroke="#c2306f" stroke-width="1.1"/>
<line x1="73.45" y1="277.20" x2="76.45" y2="277.20" stroke="#3a5a50" stroke-width="1"/>
<line x1="91.33" y1="277.20" x2="94.33" y2="277.20" stroke="#3a5a50" stroke-width="1"/>
<line x1="100.27" y1="277.20" x2="103.27" y2="277.20" stroke="#3a5a50" stroke-width="1"/>
<line x1="126.99" y1="271.50" x2="130.19" y2="271.50" stroke="#c2306f" stroke-width="1.1"/>
<line x1="128.59" y1="269.90" x2="128.59" y2="273.10" stroke="#c2306f" stroke-width="1.1"/>
<line x1="127.09" y1="277.20" x2="130.09" y2="277.20" stroke="#3a5a50" stroke-width="1"/>
<line x1="153.81" y1="271.50" x2="157.01" y2="271.50" stroke="#c2306f" stroke-width="1.1"/>
<line x1="155.41" y1="269.90" x2="155.41" y2="273.10" stroke="#c2306f" stroke-width="1.1"/>
<line x1="153.81" y1="277.20" x2="157.01" y2="277.20" stroke="#3a5a50" stroke-width="1.1"/>
<line x1="155.41" y1="275.60" x2="155.41" y2="278.80" stroke="#3a5a50" stroke-width="1.1"/>
<line x1="74.95" y1="291.60" x2="152.52" y2="291.60" stroke="#d83c8c" stroke-width="1.05"/>
<path d="M155.12 291.60 L151.52 289.90 L151.52 293.30 Z" fill="#d83c8c"/>
<line x1="52.60" y1="306.30" x2="52.60" y2="323.80" stroke="#1a1a1a" stroke-width="1.1"/>
<line x1="52.10" y1="320.80" x2="216.52" y2="320.80" stroke="#1a1a1a" stroke-width="1.2"/>
<line x1="57.07" y1="320.80" x2="57.07" y2="322.30" stroke="#1a1a1a" stroke-width="0.85"/>
<line x1="61.54" y1="320.80" x2="61.54" y2="322.30" stroke="#1a1a1a" stroke-width="0.85"/>
<line x1="66.01" y1="320.80" x2="66.01" y2="323.80" stroke="#1a1a1a" stroke-width="0.85"/>
<line x1="70.48" y1="320.80" x2="70.48" y2="322.30" stroke="#1a1a1a" stroke-width="0.85"/>
<line x1="74.95" y1="320.80" x2="74.95" y2="322.30" stroke="#1a1a1a" stroke-width="0.85"/>
<line x1="79.42" y1="320.80" x2="79.42" y2="323.80" stroke="#1a1a1a" stroke-width="0.85"/>
<line x1="83.89" y1="320.80" x2="83.89" y2="322.30" stroke="#1a1a1a" stroke-width="0.85"/>
<line x1="88.36" y1="320.80" x2="88.36" y2="322.30" stroke="#1a1a1a" stroke-width="0.85"/>
<line x1="92.83" y1="320.80" x2="92.83" y2="323.80" stroke="#1a1a1a" stroke-width="0.85"/>
<line x1="97.30" y1="320.80" x2="97.30" y2="322.30" stroke="#1a1a1a" stroke-width="0.85"/>
<line x1="101.77" y1="320.80" x2="101.77" y2="322.30" stroke="#1a1a1a" stroke-width="0.85"/>
<line x1="106.24" y1="320.80" x2="106.24" y2="323.80" stroke="#1a1a1a" stroke-width="0.85"/>
<line x1="110.71" y1="320.80" x2="110.71" y2="322.30" stroke="#1a1a1a" stroke-width="0.85"/>
<line x1="115.18" y1="320.80" x2="115.18" y2="322.30" stroke="#1a1a1a" stroke-width="0.85"/>
<line x1="119.65" y1="320.80" x2="119.65" y2="323.80" stroke="#1a1a1a" stroke-width="0.85"/>
<line x1="124.12" y1="320.80" x2="124.12" y2="322.30" stroke="#1a1a1a" stroke-width="0.85"/>
<line x1="128.59" y1="320.80" x2="128.59" y2="322.30" stroke="#1a1a1a" stroke-width="0.85"/>
<line x1="133.06" y1="320.80" x2="133.06" y2="323.80" stroke="#1a1a1a" stroke-width="0.85"/>
<line x1="137.53" y1="320.80" x2="137.53" y2="322.30" stroke="#1a1a1a" stroke-width="0.85"/>
<line x1="142.00" y1="320.80" x2="142.00" y2="322.30" stroke="#1a1a1a" stroke-width="0.85"/>
<line x1="146.47" y1="320.80" x2="146.47" y2="323.80" stroke="#1a1a1a" stroke-width="0.85"/>
<line x1="150.94" y1="320.80" x2="150.94" y2="322.30" stroke="#1a1a1a" stroke-width="0.85"/>
<line x1="155.41" y1="320.80" x2="155.41" y2="322.30" stroke="#1a1a1a" stroke-width="0.85"/>
<line x1="159.88" y1="320.80" x2="159.88" y2="323.80" stroke="#1a1a1a" stroke-width="0.85"/>
<line x1="164.35" y1="320.80" x2="164.35" y2="322.30" stroke="#1a1a1a" stroke-width="0.85"/>
<line x1="168.82" y1="320.80" x2="168.82" y2="322.30" stroke="#1a1a1a" stroke-width="0.85"/>
<line x1="173.29" y1="320.80" x2="173.29" y2="323.80" stroke="#1a1a1a" stroke-width="0.85"/>
<line x1="177.76" y1="320.80" x2="177.76" y2="322.30" stroke="#1a1a1a" stroke-width="0.85"/>
<line x1="182.23" y1="320.80" x2="182.23" y2="322.30" stroke="#1a1a1a" stroke-width="0.85"/>
<line x1="186.70" y1="320.80" x2="186.70" y2="323.80" stroke="#1a1a1a" stroke-width="0.85"/>
<line x1="191.17" y1="320.80" x2="191.17" y2="322.30" stroke="#1a1a1a" stroke-width="0.85"/>
<line x1="195.64" y1="320.80" x2="195.64" y2="322.30" stroke="#1a1a1a" stroke-width="0.85"/>
<line x1="200.11" y1="320.80" x2="200.11" y2="323.80" stroke="#1a1a1a" stroke-width="0.85"/>
<line x1="204.58" y1="320.80" x2="204.58" y2="322.30" stroke="#1a1a1a" stroke-width="0.85"/>
<line x1="209.05" y1="320.80" x2="209.05" y2="322.30" stroke="#1a1a1a" stroke-width="0.85"/>
<line x1="213.52" y1="320.80" x2="213.52" y2="323.80" stroke="#1a1a1a" stroke-width="0.85"/>
<text x="49.00" y="315.50" font-size="6.8" text-anchor="end" fill="#3a3a3a" textLength="14.2" lengthAdjust="spacingAndGlyphs" stroke="#3a3a3a" stroke-width="0.18">Pat 4</text>
<line x1="64.51" y1="310.90" x2="67.51" y2="310.90" stroke="#c2306f" stroke-width="1"/>
<line x1="64.51" y1="316.60" x2="67.51" y2="316.60" stroke="#3a5a50" stroke-width="1"/>
<line x1="86.76" y1="310.90" x2="89.96" y2="310.90" stroke="#c2306f" stroke-width="1.1"/>
<line x1="88.36" y1="309.30" x2="88.36" y2="312.50" stroke="#c2306f" stroke-width="1.1"/>
<line x1="86.86" y1="316.60" x2="89.86" y2="316.60" stroke="#3a5a50" stroke-width="1"/>
<line x1="100.17" y1="310.90" x2="103.37" y2="310.90" stroke="#c2306f" stroke-width="1.1"/>
<line x1="101.77" y1="309.30" x2="101.77" y2="312.50" stroke="#c2306f" stroke-width="1.1"/>
<line x1="100.27" y1="316.60" x2="103.27" y2="316.60" stroke="#3a5a50" stroke-width="1"/>
<line x1="144.87" y1="310.90" x2="148.07" y2="310.90" stroke="#c2306f" stroke-width="1.1"/>
<line x1="146.47" y1="309.30" x2="146.47" y2="312.50" stroke="#c2306f" stroke-width="1.1"/>
<line x1="144.87" y1="316.60" x2="148.07" y2="316.60" stroke="#3a5a50" stroke-width="1.1"/>
<line x1="146.47" y1="315.00" x2="146.47" y2="318.20" stroke="#3a5a50" stroke-width="1.1"/>
<line x1="88.36" y1="331.00" x2="145.36" y2="331.00" stroke="#d83c8c" stroke-width="1.05"/>
<path d="M147.96 331.00 L144.36 329.30 L144.36 332.70 Z" fill="#d83c8c"/>
<line x1="52.60" y1="342.50" x2="52.60" y2="360.00" stroke="#1a1a1a" stroke-width="1.1"/>
<line x1="52.10" y1="357.00" x2="216.52" y2="357.00" stroke="#1a1a1a" stroke-width="1.2"/>
<line x1="57.07" y1="357.00" x2="57.07" y2="358.50" stroke="#1a1a1a" stroke-width="0.85"/>
<line x1="61.54" y1="357.00" x2="61.54" y2="358.50" stroke="#1a1a1a" stroke-width="0.85"/>
<line x1="66.01" y1="357.00" x2="66.01" y2="360.00" stroke="#1a1a1a" stroke-width="0.85"/>
<line x1="70.48" y1="357.00" x2="70.48" y2="358.50" stroke="#1a1a1a" stroke-width="0.85"/>
<line x1="74.95" y1="357.00" x2="74.95" y2="358.50" stroke="#1a1a1a" stroke-width="0.85"/>
<line x1="79.42" y1="357.00" x2="79.42" y2="360.00" stroke="#1a1a1a" stroke-width="0.85"/>
<line x1="83.89" y1="357.00" x2="83.89" y2="358.50" stroke="#1a1a1a" stroke-width="0.85"/>
<line x1="88.36" y1="357.00" x2="88.36" y2="358.50" stroke="#1a1a1a" stroke-width="0.85"/>
<line x1="92.83" y1="357.00" x2="92.83" y2="360.00" stroke="#1a1a1a" stroke-width="0.85"/>
<line x1="97.30" y1="357.00" x2="97.30" y2="358.50" stroke="#1a1a1a" stroke-width="0.85"/>
<line x1="101.77" y1="357.00" x2="101.77" y2="358.50" stroke="#1a1a1a" stroke-width="0.85"/>
<line x1="106.24" y1="357.00" x2="106.24" y2="360.00" stroke="#1a1a1a" stroke-width="0.85"/>
<line x1="110.71" y1="357.00" x2="110.71" y2="358.50" stroke="#1a1a1a" stroke-width="0.85"/>
<line x1="115.18" y1="357.00" x2="115.18" y2="358.50" stroke="#1a1a1a" stroke-width="0.85"/>
<line x1="119.65" y1="357.00" x2="119.65" y2="360.00" stroke="#1a1a1a" stroke-width="0.85"/>
<line x1="124.12" y1="357.00" x2="124.12" y2="358.50" stroke="#1a1a1a" stroke-width="0.85"/>
<line x1="128.59" y1="357.00" x2="128.59" y2="358.50" stroke="#1a1a1a" stroke-width="0.85"/>
<line x1="133.06" y1="357.00" x2="133.06" y2="360.00" stroke="#1a1a1a" stroke-width="0.85"/>
<line x1="137.53" y1="357.00" x2="137.53" y2="358.50" stroke="#1a1a1a" stroke-width="0.85"/>
<line x1="142.00" y1="357.00" x2="142.00" y2="358.50" stroke="#1a1a1a" stroke-width="0.85"/>
<line x1="146.47" y1="357.00" x2="146.47" y2="360.00" stroke="#1a1a1a" stroke-width="0.85"/>
<line x1="150.94" y1="357.00" x2="150.94" y2="358.50" stroke="#1a1a1a" stroke-width="0.85"/>
<line x1="155.41" y1="357.00" x2="155.41" y2="358.50" stroke="#1a1a1a" stroke-width="0.85"/>
<line x1="159.88" y1="357.00" x2="159.88" y2="360.00" stroke="#1a1a1a" stroke-width="0.85"/>
<line x1="164.35" y1="357.00" x2="164.35" y2="358.50" stroke="#1a1a1a" stroke-width="0.85"/>
<line x1="168.82" y1="357.00" x2="168.82" y2="358.50" stroke="#1a1a1a" stroke-width="0.85"/>
<line x1="173.29" y1="357.00" x2="173.29" y2="360.00" stroke="#1a1a1a" stroke-width="0.85"/>
<line x1="177.76" y1="357.00" x2="177.76" y2="358.50" stroke="#1a1a1a" stroke-width="0.85"/>
<line x1="182.23" y1="357.00" x2="182.23" y2="358.50" stroke="#1a1a1a" stroke-width="0.85"/>
<line x1="186.70" y1="357.00" x2="186.70" y2="360.00" stroke="#1a1a1a" stroke-width="0.85"/>
<line x1="191.17" y1="357.00" x2="191.17" y2="358.50" stroke="#1a1a1a" stroke-width="0.85"/>
<line x1="195.64" y1="357.00" x2="195.64" y2="358.50" stroke="#1a1a1a" stroke-width="0.85"/>
<line x1="200.11" y1="357.00" x2="200.11" y2="360.00" stroke="#1a1a1a" stroke-width="0.85"/>
<line x1="204.58" y1="357.00" x2="204.58" y2="358.50" stroke="#1a1a1a" stroke-width="0.85"/>
<line x1="209.05" y1="357.00" x2="209.05" y2="358.50" stroke="#1a1a1a" stroke-width="0.85"/>
<line x1="213.52" y1="357.00" x2="213.52" y2="360.00" stroke="#1a1a1a" stroke-width="0.85"/>
<text x="49.00" y="351.70" font-size="6.8" text-anchor="end" fill="#3a3a3a" textLength="14.2" lengthAdjust="spacingAndGlyphs" stroke="#3a3a3a" stroke-width="0.18">Pat 5</text>
<line x1="60.04" y1="352.80" x2="63.04" y2="352.80" stroke="#3a5a50" stroke-width="1"/>
<line x1="68.98" y1="347.10" x2="71.98" y2="347.10" stroke="#c2306f" stroke-width="1"/>
<line x1="68.98" y1="352.80" x2="71.98" y2="352.80" stroke="#3a5a50" stroke-width="1"/>
<line x1="77.82" y1="347.10" x2="81.02" y2="347.10" stroke="#c2306f" stroke-width="1.1"/>
<line x1="79.42" y1="345.50" x2="79.42" y2="348.70" stroke="#c2306f" stroke-width="1.1"/>
<line x1="77.92" y1="352.80" x2="80.92" y2="352.80" stroke="#3a5a50" stroke-width="1"/>
<line x1="109.11" y1="347.10" x2="112.31" y2="347.10" stroke="#c2306f" stroke-width="1.1"/>
<line x1="110.71" y1="345.50" x2="110.71" y2="348.70" stroke="#c2306f" stroke-width="1.1"/>
<line x1="109.21" y1="352.80" x2="112.21" y2="352.80" stroke="#3a5a50" stroke-width="1"/>
<line x1="122.52" y1="347.10" x2="125.72" y2="347.10" stroke="#c2306f" stroke-width="1.1"/>
<line x1="124.12" y1="345.50" x2="124.12" y2="348.70" stroke="#c2306f" stroke-width="1.1"/>
<line x1="122.52" y1="352.80" x2="125.72" y2="352.80" stroke="#3a5a50" stroke-width="1.1"/>
<line x1="124.12" y1="351.20" x2="124.12" y2="354.40" stroke="#3a5a50" stroke-width="1.1"/>
<line x1="79.42" y1="366.60" x2="124.35" y2="366.60" stroke="#d83c8c" stroke-width="1.05"/>
<path d="M126.95 366.60 L123.35 364.90 L123.35 368.30 Z" fill="#d83c8c"/>
<line x1="52.60" y1="374.80" x2="52.60" y2="392.30" stroke="#1a1a1a" stroke-width="1.1"/>
<line x1="52.10" y1="389.30" x2="216.52" y2="389.30" stroke="#1a1a1a" stroke-width="1.2"/>
<line x1="57.07" y1="389.30" x2="57.07" y2="390.80" stroke="#1a1a1a" stroke-width="0.85"/>
<line x1="61.54" y1="389.30" x2="61.54" y2="390.80" stroke="#1a1a1a" stroke-width="0.85"/>
<line x1="66.01" y1="389.30" x2="66.01" y2="392.30" stroke="#1a1a1a" stroke-width="0.85"/>
<line x1="70.48" y1="389.30" x2="70.48" y2="390.80" stroke="#1a1a1a" stroke-width="0.85"/>
<line x1="74.95" y1="389.30" x2="74.95" y2="390.80" stroke="#1a1a1a" stroke-width="0.85"/>
<line x1="79.42" y1="389.30" x2="79.42" y2="392.30" stroke="#1a1a1a" stroke-width="0.85"/>
<line x1="83.89" y1="389.30" x2="83.89" y2="390.80" stroke="#1a1a1a" stroke-width="0.85"/>
<line x1="88.36" y1="389.30" x2="88.36" y2="390.80" stroke="#1a1a1a" stroke-width="0.85"/>
<line x1="92.83" y1="389.30" x2="92.83" y2="392.30" stroke="#1a1a1a" stroke-width="0.85"/>
<line x1="97.30" y1="389.30" x2="97.30" y2="390.80" stroke="#1a1a1a" stroke-width="0.85"/>
<line x1="101.77" y1="389.30" x2="101.77" y2="390.80" stroke="#1a1a1a" stroke-width="0.85"/>
<line x1="106.24" y1="389.30" x2="106.24" y2="392.30" stroke="#1a1a1a" stroke-width="0.85"/>
<line x1="110.71" y1="389.30" x2="110.71" y2="390.80" stroke="#1a1a1a" stroke-width="0.85"/>
<line x1="115.18" y1="389.30" x2="115.18" y2="390.80" stroke="#1a1a1a" stroke-width="0.85"/>
<line x1="119.65" y1="389.30" x2="119.65" y2="392.30" stroke="#1a1a1a" stroke-width="0.85"/>
<line x1="124.12" y1="389.30" x2="124.12" y2="390.80" stroke="#1a1a1a" stroke-width="0.85"/>
<line x1="128.59" y1="389.30" x2="128.59" y2="390.80" stroke="#1a1a1a" stroke-width="0.85"/>
<line x1="133.06" y1="389.30" x2="133.06" y2="392.30" stroke="#1a1a1a" stroke-width="0.85"/>
<line x1="137.53" y1="389.30" x2="137.53" y2="390.80" stroke="#1a1a1a" stroke-width="0.85"/>
<line x1="142.00" y1="389.30" x2="142.00" y2="390.80" stroke="#1a1a1a" stroke-width="0.85"/>
<line x1="146.47" y1="389.30" x2="146.47" y2="392.30" stroke="#1a1a1a" stroke-width="0.85"/>
<line x1="150.94" y1="389.30" x2="150.94" y2="390.80" stroke="#1a1a1a" stroke-width="0.85"/>
<line x1="155.41" y1="389.30" x2="155.41" y2="390.80" stroke="#1a1a1a" stroke-width="0.85"/>
<line x1="159.88" y1="389.30" x2="159.88" y2="392.30" stroke="#1a1a1a" stroke-width="0.85"/>
<line x1="164.35" y1="389.30" x2="164.35" y2="390.80" stroke="#1a1a1a" stroke-width="0.85"/>
<line x1="168.82" y1="389.30" x2="168.82" y2="390.80" stroke="#1a1a1a" stroke-width="0.85"/>
<line x1="173.29" y1="389.30" x2="173.29" y2="392.30" stroke="#1a1a1a" stroke-width="0.85"/>
<line x1="177.76" y1="389.30" x2="177.76" y2="390.80" stroke="#1a1a1a" stroke-width="0.85"/>
<line x1="182.23" y1="389.30" x2="182.23" y2="390.80" stroke="#1a1a1a" stroke-width="0.85"/>
<line x1="186.70" y1="389.30" x2="186.70" y2="392.30" stroke="#1a1a1a" stroke-width="0.85"/>
<line x1="191.17" y1="389.30" x2="191.17" y2="390.80" stroke="#1a1a1a" stroke-width="0.85"/>
<line x1="195.64" y1="389.30" x2="195.64" y2="390.80" stroke="#1a1a1a" stroke-width="0.85"/>
<line x1="200.11" y1="389.30" x2="200.11" y2="392.30" stroke="#1a1a1a" stroke-width="0.85"/>
<line x1="204.58" y1="389.30" x2="204.58" y2="390.80" stroke="#1a1a1a" stroke-width="0.85"/>
<line x1="209.05" y1="389.30" x2="209.05" y2="390.80" stroke="#1a1a1a" stroke-width="0.85"/>
<line x1="213.52" y1="389.30" x2="213.52" y2="392.30" stroke="#1a1a1a" stroke-width="0.85"/>
<text x="49.00" y="384.00" font-size="6.8" text-anchor="end" fill="#3a3a3a" textLength="14.2" lengthAdjust="spacingAndGlyphs" stroke="#3a3a3a" stroke-width="0.18">Pat 6</text>
<line x1="59.94" y1="379.40" x2="63.14" y2="379.40" stroke="#c2306f" stroke-width="1.1"/>
<line x1="61.54" y1="377.80" x2="61.54" y2="381.00" stroke="#c2306f" stroke-width="1.1"/>
<line x1="60.04" y1="385.10" x2="63.04" y2="385.10" stroke="#3a5a50" stroke-width="1"/>
<line x1="68.88" y1="379.40" x2="72.08" y2="379.40" stroke="#c2306f" stroke-width="1.1"/>
<line x1="70.48" y1="377.80" x2="70.48" y2="381.00" stroke="#c2306f" stroke-width="1.1"/>
<line x1="68.98" y1="385.10" x2="71.98" y2="385.10" stroke="#3a5a50" stroke-width="1"/>
<line x1="77.82" y1="385.10" x2="81.02" y2="385.10" stroke="#3a5a50" stroke-width="1.1"/>
<line x1="79.42" y1="383.50" x2="79.42" y2="386.70" stroke="#3a5a50" stroke-width="1.1"/>
<line x1="91.23" y1="379.40" x2="94.43" y2="379.40" stroke="#c2306f" stroke-width="1.1"/>
<line x1="92.83" y1="377.80" x2="92.83" y2="381.00" stroke="#c2306f" stroke-width="1.1"/>
<line x1="91.23" y1="385.10" x2="94.43" y2="385.10" stroke="#3a5a50" stroke-width="1.1"/>
<line x1="92.83" y1="383.50" x2="92.83" y2="386.70" stroke="#3a5a50" stroke-width="1.1"/>
<line x1="79.42" y1="401.40" x2="92.17" y2="401.40" stroke="#2f6a58" stroke-width="1.05"/>
<path d="M94.77 401.40 L91.17 399.70 L91.17 403.10 Z" fill="#2f6a58"/>
<line x1="61.54" y1="405.60" x2="92.17" y2="405.60" stroke="#d83c8c" stroke-width="1.05"/>
<path d="M94.77 405.60 L91.17 403.90 L91.17 407.30 Z" fill="#d83c8c"/>
<text x="54.80" y="395.80" font-size="6.3" text-anchor="end" fill="#333" transform="rotate(-90 54.800000000000004 395.8)" stroke="#333" stroke-width="0.18">0</text>
<text x="68.21" y="395.80" font-size="6.3" text-anchor="end" fill="#333" transform="rotate(-90 68.21000000000001 395.8)" stroke="#333" stroke-width="0.18">3</text>
<text x="81.62" y="395.80" font-size="6.3" text-anchor="end" fill="#333" transform="rotate(-90 81.62 395.8)" stroke="#333" stroke-width="0.18">6</text>
<text x="95.03" y="395.80" font-size="6.3" text-anchor="end" fill="#333" transform="rotate(-90 95.03 395.8)" stroke="#333" stroke-width="0.18">9</text>
<text x="108.44" y="395.80" font-size="6.3" text-anchor="end" fill="#333" transform="rotate(-90 108.44000000000001 395.8)" stroke="#333" stroke-width="0.18">12</text>
<text x="121.85" y="395.80" font-size="6.3" text-anchor="end" fill="#333" transform="rotate(-90 121.85000000000001 395.8)" stroke="#333" stroke-width="0.18">15</text>
<text x="135.26" y="395.80" font-size="6.3" text-anchor="end" fill="#333" transform="rotate(-90 135.26 395.8)" stroke="#333" stroke-width="0.18">18</text>
<text x="148.67" y="395.80" font-size="6.3" text-anchor="end" fill="#333" transform="rotate(-90 148.67 395.8)" stroke="#333" stroke-width="0.18">21</text>
<text x="162.08" y="395.80" font-size="6.3" text-anchor="end" fill="#333" transform="rotate(-90 162.07999999999998 395.8)" stroke="#333" stroke-width="0.18">24</text>
<text x="175.49" y="395.80" font-size="6.3" text-anchor="end" fill="#333" transform="rotate(-90 175.48999999999998 395.8)" stroke="#333" stroke-width="0.18">27</text>
<text x="188.90" y="395.80" font-size="6.3" text-anchor="end" fill="#333" transform="rotate(-90 188.89999999999998 395.8)" stroke="#333" stroke-width="0.18">30</text>
<text x="202.31" y="395.80" font-size="6.3" text-anchor="end" fill="#333" transform="rotate(-90 202.30999999999997 395.8)" stroke="#333" stroke-width="0.18">33</text>
<text x="215.72" y="395.80" font-size="6.3" text-anchor="end" fill="#333" transform="rotate(-90 215.71999999999997 395.8)" stroke="#333" stroke-width="0.18">36</text>
<text x="85.00" y="416.00" font-size="8" text-anchor="start" fill="#262626" textLength="99" lengthAdjust="spacingAndGlyphs" stroke="#262626" stroke-width="0.18">Months (starting from Allo-HSCT)</text>
<line x1="42.20" y1="431.60" x2="46.60" y2="431.60" stroke="#2f6a58" stroke-width="1.1"/>
<line x1="44.40" y1="429.40" x2="44.40" y2="433.80" stroke="#2f6a58" stroke-width="1.1"/>
<text x="51.00" y="434.20" font-size="7.4" text-anchor="start" fill="#2a2a2a" textLength="35.6" lengthAdjust="spacingAndGlyphs" stroke="#2a2a2a" stroke-width="0.18">MNC MRD+</text>
<line x1="95.00" y1="431.60" x2="99.50" y2="431.60" stroke="#2f6a58" stroke-width="1.1"/>
<text x="102.40" y="434.20" font-size="7.4" text-anchor="start" fill="#2a2a2a" textLength="35.6" lengthAdjust="spacingAndGlyphs" stroke="#2a2a2a" stroke-width="0.18">MNC MRD-</text>
<line x1="145.00" y1="431.60" x2="151.00" y2="431.60" stroke="#2f6a58" stroke-width="1.1"/>
<path d="M154 431.6 L150.5 429.9 L150.5 433.3 Z" fill="#2f6a58"/>
<text x="157.00" y="434.20" font-size="7.4" text-anchor="start" fill="#2a2a2a" textLength="68.6" lengthAdjust="spacingAndGlyphs" stroke="#2a2a2a" stroke-width="0.18">MNC MRD+ to Relapse</text>
<line x1="42.20" y1="443.60" x2="46.60" y2="443.60" stroke="#d83c8c" stroke-width="1.1"/>
<line x1="44.40" y1="441.40" x2="44.40" y2="445.80" stroke="#d83c8c" stroke-width="1.1"/>
<text x="51.00" y="446.20" font-size="7.4" text-anchor="start" fill="#2a2a2a" textLength="39" lengthAdjust="spacingAndGlyphs" stroke="#2a2a2a" stroke-width="0.18">HSPC MRD+</text>
<line x1="96.00" y1="443.60" x2="100.50" y2="443.60" stroke="#d83c8c" stroke-width="1.1"/>
<text x="103.00" y="446.20" font-size="7.4" text-anchor="start" fill="#2a2a2a" textLength="36" lengthAdjust="spacingAndGlyphs" stroke="#2a2a2a" stroke-width="0.18">HSPC MRD-</text>
<line x1="145.00" y1="443.60" x2="151.00" y2="443.60" stroke="#d83c8c" stroke-width="1.1"/>
<path d="M154 443.6 L150.5 441.9 L150.5 445.3 Z" fill="#d83c8c"/>
<text x="157.00" y="446.20" font-size="7.4" text-anchor="start" fill="#2a2a2a" textLength="70" lengthAdjust="spacingAndGlyphs" stroke="#2a2a2a" stroke-width="0.18">HSPC MRD+ to Relapse</text>
<text x="252.80" y="16.30" font-size="11.2" text-anchor="start" fill="#111" font-weight="bold">D</text>
<text x="279.60" y="55.20" font-size="6.6" text-anchor="end" fill="#333" textLength="14.6" lengthAdjust="spacingAndGlyphs" stroke="#333" stroke-width="0.18">Pat 2</text>
<text x="289.20" y="52.50" font-size="7" text-anchor="middle" fill="#262626" textLength="23" lengthAdjust="spacingAndGlyphs" transform="rotate(-90 289.2 52.5)" stroke="#262626" stroke-width="0.25">VAF (%)</text>
<text x="323.80" y="31.10" font-size="9" text-anchor="middle" fill="#1e1e1e" textLength="19.6" lengthAdjust="spacingAndGlyphs" stroke="#1e1e1e" stroke-width="0.18">MNC</text>
<line x1="314.00" y1="36.50" x2="314.00" y2="69.00" stroke="#383838" stroke-width="1.1"/>
<line x1="313.50" y1="68.50" x2="333.50" y2="68.50" stroke="#383838" stroke-width="1.1"/>
<line x1="311.80" y1="68.50" x2="314.00" y2="68.50" stroke="#383838" stroke-width="0.9"/>
<text x="308.10" y="70.80" font-size="6.5" text-anchor="end" fill="#262626" stroke="#262626" stroke-width="0.18">0.01</text>
<line x1="311.80" y1="61.30" x2="314.00" y2="61.30" stroke="#383838" stroke-width="0.9"/>
<text x="308.10" y="63.60" font-size="6.5" text-anchor="end" fill="#262626" stroke="#262626" stroke-width="0.18">0.1</text>
<line x1="311.80" y1="54.10" x2="314.00" y2="54.10" stroke="#383838" stroke-width="0.9"/>
<text x="308.10" y="56.40" font-size="6.5" text-anchor="end" fill="#262626" stroke="#262626" stroke-width="0.18">1</text>
<line x1="311.80" y1="46.90" x2="314.00" y2="46.90" stroke="#383838" stroke-width="0.9"/>
<text x="308.10" y="49.20" font-size="6.5" text-anchor="end" fill="#262626" stroke="#262626" stroke-width="0.18">10</text>
<line x1="311.80" y1="39.70" x2="314.00" y2="39.70" stroke="#383838" stroke-width="0.9"/>
<text x="308.10" y="42.00" font-size="6.5" text-anchor="end" fill="#262626" stroke="#262626" stroke-width="0.18">100</text>
<line x1="318.70" y1="68.50" x2="318.70" y2="70.70" stroke="#383838" stroke-width="0.8"/>
<line x1="328.50" y1="68.50" x2="328.50" y2="70.70" stroke="#383838" stroke-width="0.8"/>
<text x="319.10" y="80.30" font-size="7" text-anchor="middle" fill="#333" textLength="6.85" lengthAdjust="spacingAndGlyphs" stroke="#333" stroke-width="0.18">25</text>
<text x="328.80" y="80.30" font-size="7" text-anchor="middle" fill="#333" textLength="6.85" lengthAdjust="spacingAndGlyphs" stroke="#333" stroke-width="0.18">21</text>
<text x="324.60" y="87.10" font-size="6.3" text-anchor="middle" fill="#333" textLength="18.15" lengthAdjust="spacingAndGlyphs" stroke="#333" stroke-width="0.18">(8)(12)</text>
<line x1="318.70" y1="59.10" x2="318.70" y2="71.80" stroke="#b0163e" stroke-width="0.8"/>
<line x1="317.70" y1="59.10" x2="319.70" y2="59.10" stroke="#b0163e" stroke-width="0.7"/>
<line x1="328.50" y1="56.80" x2="328.50" y2="64.30" stroke="#5cb85c" stroke-width="0.8"/>
<line x1="327.50" y1="56.80" x2="329.50" y2="56.80" stroke="#5cb85c" stroke-width="0.7"/>
<line x1="318.70" y1="61.80" x2="328.50" y2="58.00" stroke="#2a2a2a" stroke-width="0.9"/>
<circle cx="318.70" cy="61.80" r="1.6" fill="#b0163e" stroke="none" stroke-width="1"/>
<circle cx="328.50" cy="58.00" r="1.6" fill="#5cb85c" stroke="none" stroke-width="1"/>
<text x="357.20" y="31.10" font-size="9" text-anchor="middle" fill="#1e1e1e" textLength="16.5" lengthAdjust="spacingAndGlyphs" stroke="#1e1e1e" stroke-width="0.18">HSC</text>
<line x1="347.40" y1="36.50" x2="347.40" y2="69.00" stroke="#383838" stroke-width="1.1"/>
<line x1="346.90" y1="68.50" x2="366.90" y2="68.50" stroke="#383838" stroke-width="1.1"/>
<line x1="345.20" y1="68.50" x2="347.40" y2="68.50" stroke="#383838" stroke-width="0.9"/>
<line x1="345.20" y1="61.30" x2="347.40" y2="61.30" stroke="#383838" stroke-width="0.9"/>
<line x1="345.20" y1="54.10" x2="347.40" y2="54.10" stroke="#383838" stroke-width="0.9"/>
<line x1="345.20" y1="46.90" x2="347.40" y2="46.90" stroke="#383838" stroke-width="0.9"/>
<line x1="345.20" y1="39.70" x2="347.40" y2="39.70" stroke="#383838" stroke-width="0.9"/>
<line x1="352.10" y1="68.50" x2="352.10" y2="70.70" stroke="#383838" stroke-width="0.8"/>
<line x1="361.90" y1="68.50" x2="361.90" y2="70.70" stroke="#383838" stroke-width="0.8"/>
<text x="352.50" y="80.30" font-size="7" text-anchor="middle" fill="#333" textLength="6.85" lengthAdjust="spacingAndGlyphs" stroke="#333" stroke-width="0.18">25</text>
<text x="362.20" y="80.30" font-size="7" text-anchor="middle" fill="#333" textLength="6.85" lengthAdjust="spacingAndGlyphs" stroke="#333" stroke-width="0.18">21</text>
<text x="358.00" y="87.10" font-size="6.3" text-anchor="middle" fill="#333" textLength="18.15" lengthAdjust="spacingAndGlyphs" stroke="#333" stroke-width="0.18">(8)(12)</text>
<line x1="352.10" y1="60.00" x2="352.10" y2="71.80" stroke="#5cb85c" stroke-width="0.8"/>
<line x1="351.10" y1="60.00" x2="353.10" y2="60.00" stroke="#5cb85c" stroke-width="0.7"/>
<line x1="352.10" y1="61.40" x2="361.90" y2="58.00" stroke="#2a2a2a" stroke-width="0.9"/>
<circle cx="352.10" cy="61.40" r="1.6" fill="#5cb85c" stroke="none" stroke-width="1"/>
<circle cx="361.90" cy="58.00" r="1.6" fill="#1b2f58" stroke="none" stroke-width="1"/>
<text x="391.20" y="31.10" font-size="9" text-anchor="middle" fill="#1e1e1e" textLength="17.8" lengthAdjust="spacingAndGlyphs" stroke="#1e1e1e" stroke-width="0.18">CMP</text>
<line x1="381.40" y1="36.50" x2="381.40" y2="69.00" stroke="#383838" stroke-width="1.1"/>
<line x1="380.90" y1="68.50" x2="400.90" y2="68.50" stroke="#383838" stroke-width="1.1"/>
<line x1="379.20" y1="68.50" x2="381.40" y2="68.50" stroke="#383838" stroke-width="0.9"/>
<line x1="379.20" y1="61.30" x2="381.40" y2="61.30" stroke="#383838" stroke-width="0.9"/>
<line x1="379.20" y1="54.10" x2="381.40" y2="54.10" stroke="#383838" stroke-width="0.9"/>
<line x1="379.20" y1="46.90" x2="381.40" y2="46.90" stroke="#383838" stroke-width="0.9"/>
<line x1="379.20" y1="39.70" x2="381.40" y2="39.70" stroke="#383838" stroke-width="0.9"/>
<line x1="386.10" y1="68.50" x2="386.10" y2="70.70" stroke="#383838" stroke-width="0.8"/>
<line x1="395.90" y1="68.50" x2="395.90" y2="70.70" stroke="#383838" stroke-width="0.8"/>
<text x="386.50" y="80.30" font-size="7" text-anchor="middle" fill="#333" textLength="6.85" lengthAdjust="spacingAndGlyphs" stroke="#333" stroke-width="0.18">25</text>
<text x="396.20" y="80.30" font-size="7" text-anchor="middle" fill="#333" textLength="6.85" lengthAdjust="spacingAndGlyphs" stroke="#333" stroke-width="0.18">21</text>
<text x="392.00" y="87.10" font-size="6.3" text-anchor="middle" fill="#333" textLength="18.15" lengthAdjust="spacingAndGlyphs" stroke="#333" stroke-width="0.18">(8)(12)</text>
<line x1="386.10" y1="56.20" x2="386.10" y2="69.50" stroke="#5cb85c" stroke-width="0.8"/>
<line x1="385.10" y1="56.20" x2="387.10" y2="56.20" stroke="#5cb85c" stroke-width="0.7"/>
<line x1="386.10" y1="58.50" x2="395.90" y2="53.00" stroke="#2a2a2a" stroke-width="0.9"/>
<circle cx="386.10" cy="58.50" r="1.6" fill="#5cb85c" stroke="none" stroke-width="1"/>
<circle cx="395.90" cy="53.00" r="1.6" fill="#1b2f58" stroke="none" stroke-width="1"/>
<text x="425.40" y="31.10" font-size="9" text-anchor="middle" fill="#1e1e1e" textLength="19" lengthAdjust="spacingAndGlyphs" stroke="#1e1e1e" stroke-width="0.18">GMP</text>
<line x1="415.60" y1="36.50" x2="415.60" y2="69.00" stroke="#383838" stroke-width="1.1"/>
<line x1="415.10" y1="68.50" x2="435.10" y2="68.50" stroke="#383838" stroke-width="1.1"/>
<line x1="413.40" y1="68.50" x2="415.60" y2="68.50" stroke="#383838" stroke-width="0.9"/>
<line x1="413.40" y1="61.30" x2="415.60" y2="61.30" stroke="#383838" stroke-width="0.9"/>
<line x1="413.40" y1="54.10" x2="415.60" y2="54.10" stroke="#383838" stroke-width="0.9"/>
<line x1="413.40" y1="46.90" x2="415.60" y2="46.90" stroke="#383838" stroke-width="0.9"/>
<line x1="413.40" y1="39.70" x2="415.60" y2="39.70" stroke="#383838" stroke-width="0.9"/>
<line x1="420.30" y1="68.50" x2="420.30" y2="70.70" stroke="#383838" stroke-width="0.8"/>
<line x1="430.10" y1="68.50" x2="430.10" y2="70.70" stroke="#383838" stroke-width="0.8"/>
<text x="420.70" y="80.30" font-size="7" text-anchor="middle" fill="#333" textLength="6.85" lengthAdjust="spacingAndGlyphs" stroke="#333" stroke-width="0.18">25</text>
<text x="430.40" y="80.30" font-size="7" text-anchor="middle" fill="#333" textLength="6.85" lengthAdjust="spacingAndGlyphs" stroke="#333" stroke-width="0.18">21</text>
<text x="426.20" y="87.10" font-size="6.3" text-anchor="middle" fill="#333" textLength="18.15" lengthAdjust="spacingAndGlyphs" stroke="#333" stroke-width="0.18">(8)(12)</text>
<line x1="420.30" y1="52.40" x2="430.10" y2="50.10" stroke="#b8b090" stroke-width="0.9"/>
<circle cx="420.30" cy="52.40" r="1.7" fill="#1b2f58" stroke="none" stroke-width="1"/>
<circle cx="430.10" cy="50.10" r="1.7" fill="#1b2f58" stroke="none" stroke-width="1"/>
<text x="459.70" y="31.10" font-size="9" text-anchor="middle" fill="#1e1e1e" textLength="17.5" lengthAdjust="spacingAndGlyphs" stroke="#1e1e1e" stroke-width="0.18">MEP</text>
<line x1="449.90" y1="36.50" x2="449.90" y2="69.00" stroke="#383838" stroke-width="1.1"/>
<line x1="449.40" y1="68.50" x2="469.40" y2="68.50" stroke="#383838" stroke-width="1.1"/>
<line x1="447.70" y1="68.50" x2="449.90" y2="68.50" stroke="#383838" stroke-width="0.9"/>
<line x1="447.70" y1="61.30" x2="449.90" y2="61.30" stroke="#383838" stroke-width="0.9"/>
<line x1="447.70" y1="54.10" x2="449.90" y2="54.10" stroke="#383838" stroke-width="0.9"/>
<line x1="447.70" y1="46.90" x2="449.90" y2="46.90" stroke="#383838" stroke-width="0.9"/>
<line x1="447.70" y1="39.70" x2="449.90" y2="39.70" stroke="#383838" stroke-width="0.9"/>
<line x1="454.60" y1="68.50" x2="454.60" y2="70.70" stroke="#383838" stroke-width="0.8"/>
<line x1="464.40" y1="68.50" x2="464.40" y2="70.70" stroke="#383838" stroke-width="0.8"/>
<text x="455.00" y="80.30" font-size="7" text-anchor="middle" fill="#333" textLength="6.85" lengthAdjust="spacingAndGlyphs" stroke="#333" stroke-width="0.18">25</text>
<text x="464.70" y="80.30" font-size="7" text-anchor="middle" fill="#333" textLength="6.85" lengthAdjust="spacingAndGlyphs" stroke="#333" stroke-width="0.18">21</text>
<text x="460.50" y="87.10" font-size="6.3" text-anchor="middle" fill="#333" textLength="18.15" lengthAdjust="spacingAndGlyphs" stroke="#333" stroke-width="0.18">(8)(12)</text>
<line x1="454.60" y1="61.90" x2="454.60" y2="69.50" stroke="#b0163e" stroke-width="0.8"/>
<line x1="453.60" y1="61.90" x2="455.60" y2="61.90" stroke="#b0163e" stroke-width="0.7"/>
<line x1="454.60" y1="64.70" x2="464.40" y2="56.50" stroke="#2a2a2a" stroke-width="0.9"/>
<circle cx="454.60" cy="64.70" r="1.6" fill="#b0163e" stroke="none" stroke-width="1"/>
<circle cx="464.40" cy="56.50" r="1.6" fill="#1b2f58" stroke="none" stroke-width="1"/>
<line x1="475.00" y1="43.30" x2="485.00" y2="43.30" stroke="#8a8a8a" stroke-width="1"/>
<circle cx="480.00" cy="43.30" r="1.35" fill="#111" stroke="none" stroke-width="1"/>
<text x="488.80" y="45.80" font-size="7.2" text-anchor="start" fill="#3a3a3a" font-style="italic" textLength="16.27" lengthAdjust="spacingAndGlyphs" stroke="#3a3a3a" stroke-width="0.18">KRAS</text>
<text x="279.60" y="126.70" font-size="6.6" text-anchor="end" fill="#333" textLength="14.6" lengthAdjust="spacingAndGlyphs" stroke="#333" stroke-width="0.18">Pat 7</text>
<text x="289.20" y="124.00" font-size="7" text-anchor="middle" fill="#262626" textLength="23" lengthAdjust="spacingAndGlyphs" transform="rotate(-90 289.2 124)" stroke="#262626" stroke-width="0.25">VAF (%)</text>
<text x="323.80" y="102.60" font-size="9" text-anchor="middle" fill="#1e1e1e" textLength="19.6" lengthAdjust="spacingAndGlyphs" stroke="#1e1e1e" stroke-width="0.18">MNC</text>
<line x1="314.00" y1="108.00" x2="314.00" y2="140.50" stroke="#383838" stroke-width="1.1"/>
<line x1="313.50" y1="140.00" x2="333.50" y2="140.00" stroke="#383838" stroke-width="1.1"/>
<line x1="311.80" y1="140.00" x2="314.00" y2="140.00" stroke="#383838" stroke-width="0.9"/>
<text x="308.10" y="142.30" font-size="6.5" text-anchor="end" fill="#262626" stroke="#262626" stroke-width="0.18">0.01</text>
<line x1="311.80" y1="132.80" x2="314.00" y2="132.80" stroke="#383838" stroke-width="0.9"/>
<text x="308.10" y="135.10" font-size="6.5" text-anchor="end" fill="#262626" stroke="#262626" stroke-width="0.18">0.1</text>
<line x1="311.80" y1="125.60" x2="314.00" y2="125.60" stroke="#383838" stroke-width="0.9"/>
<text x="308.10" y="127.90" font-size="6.5" text-anchor="end" fill="#262626" stroke="#262626" stroke-width="0.18">1</text>
<line x1="311.80" y1="118.40" x2="314.00" y2="118.40" stroke="#383838" stroke-width="0.9"/>
<text x="308.10" y="120.70" font-size="6.5" text-anchor="end" fill="#262626" stroke="#262626" stroke-width="0.18">10</text>
<line x1="311.80" y1="111.20" x2="314.00" y2="111.20" stroke="#383838" stroke-width="0.9"/>
<text x="308.10" y="113.50" font-size="6.5" text-anchor="end" fill="#262626" stroke="#262626" stroke-width="0.18">100</text>
<line x1="318.70" y1="140.00" x2="318.70" y2="142.20" stroke="#383838" stroke-width="0.8"/>
<line x1="328.50" y1="140.00" x2="328.50" y2="142.20" stroke="#383838" stroke-width="0.8"/>
<text x="319.10" y="151.80" font-size="7" text-anchor="middle" fill="#333" textLength="6.85" lengthAdjust="spacingAndGlyphs" stroke="#333" stroke-width="0.18">18</text>
<text x="328.80" y="151.80" font-size="7" text-anchor="middle" fill="#333" textLength="3.43" lengthAdjust="spacingAndGlyphs" stroke="#333" stroke-width="0.18">6</text>
<text x="324.60" y="158.60" font-size="6.3" text-anchor="middle" fill="#333" textLength="18.15" lengthAdjust="spacingAndGlyphs" stroke="#333" stroke-width="0.18">(5)(17)</text>
<line x1="328.50" y1="129.00" x2="328.50" y2="133.70" stroke="#5cb85c" stroke-width="0.8"/>
<line x1="327.50" y1="129.00" x2="329.50" y2="129.00" stroke="#5cb85c" stroke-width="0.7"/>
<line x1="328.50" y1="135.40" x2="328.50" y2="138.60" stroke="#b0163e" stroke-width="0.8"/>
<line x1="327.50" y1="135.40" x2="329.50" y2="135.40" stroke="#b0163e" stroke-width="0.7"/>
<line x1="318.70" y1="139.80" x2="328.50" y2="126.80" stroke="#2a2a2a" stroke-width="0.9"/>
<line x1="318.70" y1="139.80" x2="328.50" y2="138.60" stroke="#2a2a2a" stroke-width="0.9"/>
<circle cx="318.70" cy="139.70" r="2.1" fill="#b0163e" stroke="none" stroke-width="1"/>
<rect x="326.90" y="125.20" width="3.20" height="3.20" fill="#5cb85c"/>
<circle cx="328.50" cy="138.40" r="1.9" fill="#b0163e" stroke="none" stroke-width="1"/>
<text x="357.20" y="102.60" font-size="9" text-anchor="middle" fill="#1e1e1e" textLength="22" lengthAdjust="spacingAndGlyphs" stroke="#1e1e1e" stroke-width="0.18">LMPP</text>
<line x1="347.40" y1="108.00" x2="347.40" y2="140.50" stroke="#383838" stroke-width="1.1"/>
<line x1="346.90" y1="140.00" x2="366.90" y2="140.00" stroke="#383838" stroke-width="1.1"/>
<line x1="345.20" y1="140.00" x2="347.40" y2="140.00" stroke="#383838" stroke-width="0.9"/>
<line x1="345.20" y1="132.80" x2="347.40" y2="132.80" stroke="#383838" stroke-width="0.9"/>
<line x1="345.20" y1="125.60" x2="347.40" y2="125.60" stroke="#383838" stroke-width="0.9"/>
<line x1="345.20" y1="118.40" x2="347.40" y2="118.40" stroke="#383838" stroke-width="0.9"/>
<line x1="345.20" y1="111.20" x2="347.40" y2="111.20" stroke="#383838" stroke-width="0.9"/>
<line x1="352.10" y1="140.00" x2="352.10" y2="142.20" stroke="#383838" stroke-width="0.8"/>
<line x1="361.90" y1="140.00" x2="361.90" y2="142.20" stroke="#383838" stroke-width="0.8"/>
<text x="352.50" y="151.80" font-size="7" text-anchor="middle" fill="#333" textLength="6.85" lengthAdjust="spacingAndGlyphs" stroke="#333" stroke-width="0.18">18</text>
<text x="362.20" y="151.80" font-size="7" text-anchor="middle" fill="#333" textLength="3.43" lengthAdjust="spacingAndGlyphs" stroke="#333" stroke-width="0.18">6</text>
<text x="358.00" y="158.60" font-size="6.3" text-anchor="middle" fill="#333" textLength="18.15" lengthAdjust="spacingAndGlyphs" stroke="#333" stroke-width="0.18">(5)(17)</text>
<line x1="352.10" y1="135.40" x2="352.10" y2="140.00" stroke="#b0163e" stroke-width="0.8"/>
<line x1="351.10" y1="135.40" x2="353.10" y2="135.40" stroke="#b0163e" stroke-width="0.7"/>
<line x1="352.10" y1="139.50" x2="361.90" y2="115.20" stroke="#2a2a2a" stroke-width="0.9"/>
<circle cx="352.10" cy="139.40" r="2" fill="#b0163e" stroke="none" stroke-width="1"/>
<rect x="360.30" y="113.60" width="3.20" height="3.20" fill="#1b2f58"/>
<rect x="360.30" y="115.90" width="3.20" height="3.20" fill="#1b2f58"/>
<text x="391.20" y="102.60" font-size="9" text-anchor="middle" fill="#1e1e1e" textLength="17.8" lengthAdjust="spacingAndGlyphs" stroke="#1e1e1e" stroke-width="0.18">CMP</text>
<line x1="381.40" y1="108.00" x2="381.40" y2="140.50" stroke="#383838" stroke-width="1.1"/>
<line x1="380.90" y1="140.00" x2="400.90" y2="140.00" stroke="#383838" stroke-width="1.1"/>
<line x1="379.20" y1="140.00" x2="381.40" y2="140.00" stroke="#383838" stroke-width="0.9"/>
<line x1="379.20" y1="132.80" x2="381.40" y2="132.80" stroke="#383838" stroke-width="0.9"/>
<line x1="379.20" y1="125.60" x2="381.40" y2="125.60" stroke="#383838" stroke-width="0.9"/>
<line x1="379.20" y1="118.40" x2="381.40" y2="118.40" stroke="#383838" stroke-width="0.9"/>
<line x1="379.20" y1="111.20" x2="381.40" y2="111.20" stroke="#383838" stroke-width="0.9"/>
<line x1="386.10" y1="140.00" x2="386.10" y2="142.20" stroke="#383838" stroke-width="0.8"/>
<line x1="395.90" y1="140.00" x2="395.90" y2="142.20" stroke="#383838" stroke-width="0.8"/>
<text x="386.50" y="151.80" font-size="7" text-anchor="middle" fill="#333" textLength="6.85" lengthAdjust="spacingAndGlyphs" stroke="#333" stroke-width="0.18">18</text>
<text x="396.20" y="151.80" font-size="7" text-anchor="middle" fill="#333" textLength="3.43" lengthAdjust="spacingAndGlyphs" stroke="#333" stroke-width="0.18">6</text>
<text x="392.00" y="158.60" font-size="6.3" text-anchor="middle" fill="#333" textLength="18.15" lengthAdjust="spacingAndGlyphs" stroke="#333" stroke-width="0.18">(5)(17)</text>
<line x1="386.10" y1="136.50" x2="386.10" y2="140.00" stroke="#b0163e" stroke-width="0.8"/>
<line x1="385.10" y1="136.50" x2="387.10" y2="136.50" stroke="#b0163e" stroke-width="0.7"/>
<line x1="386.10" y1="139.50" x2="395.90" y2="125.00" stroke="#2a2a2a" stroke-width="0.9"/>
<circle cx="386.10" cy="139.40" r="2" fill="#b0163e" stroke="none" stroke-width="1"/>
<rect x="394.30" y="123.40" width="3.20" height="3.20" fill="#1b2f58"/>
<rect x="394.30" y="125.70" width="3.20" height="3.20" fill="#1b2f58"/>
<text x="425.40" y="102.60" font-size="9" text-anchor="middle" fill="#1e1e1e" textLength="19" lengthAdjust="spacingAndGlyphs" stroke="#1e1e1e" stroke-width="0.18">GMP</text>
<line x1="415.60" y1="108.00" x2="415.60" y2="140.50" stroke="#383838" stroke-width="1.1"/>
<line x1="415.10" y1="140.00" x2="435.10" y2="140.00" stroke="#383838" stroke-width="1.1"/>
<line x1="413.40" y1="140.00" x2="415.60" y2="140.00" stroke="#383838" stroke-width="0.9"/>
<line x1="413.40" y1="132.80" x2="415.60" y2="132.80" stroke="#383838" stroke-width="0.9"/>
<line x1="413.40" y1="125.60" x2="415.60" y2="125.60" stroke="#383838" stroke-width="0.9"/>
<line x1="413.40" y1="118.40" x2="415.60" y2="118.40" stroke="#383838" stroke-width="0.9"/>
<line x1="413.40" y1="111.20" x2="415.60" y2="111.20" stroke="#383838" stroke-width="0.9"/>
<line x1="420.30" y1="140.00" x2="420.30" y2="142.20" stroke="#383838" stroke-width="0.8"/>
<line x1="430.10" y1="140.00" x2="430.10" y2="142.20" stroke="#383838" stroke-width="0.8"/>
<text x="420.70" y="151.80" font-size="7" text-anchor="middle" fill="#333" textLength="6.85" lengthAdjust="spacingAndGlyphs" stroke="#333" stroke-width="0.18">18</text>
<text x="430.40" y="151.80" font-size="7" text-anchor="middle" fill="#333" textLength="3.43" lengthAdjust="spacingAndGlyphs" stroke="#333" stroke-width="0.18">6</text>
<text x="426.20" y="158.60" font-size="6.3" text-anchor="middle" fill="#333" textLength="18.15" lengthAdjust="spacingAndGlyphs" stroke="#333" stroke-width="0.18">(5)(17)</text>
<line x1="420.30" y1="136.60" x2="420.30" y2="140.00" stroke="#5cb85c" stroke-width="0.8"/>
<line x1="419.30" y1="136.60" x2="421.30" y2="136.60" stroke="#5cb85c" stroke-width="0.7"/>
<line x1="420.30" y1="131.10" x2="430.10" y2="120.00" stroke="#2a2a2a" stroke-width="0.9"/>
<line x1="420.30" y1="136.60" x2="430.10" y2="120.00" stroke="#2a2a2a" stroke-width="0.9"/>
<rect x="418.70" y="129.50" width="3.20" height="3.20" fill="#1b2f58"/>
<circle cx="420.30" cy="136.60" r="1.6" fill="#5cb85c" stroke="none" stroke-width="1"/>
<rect x="428.50" y="118.40" width="3.20" height="3.20" fill="#1b2f58"/>
<rect x="428.50" y="119.80" width="3.20" height="3.20" fill="#1b2f58"/>
<text x="459.70" y="102.60" font-size="9" text-anchor="middle" fill="#1e1e1e" textLength="17.5" lengthAdjust="spacingAndGlyphs" stroke="#1e1e1e" stroke-width="0.18">MEP</text>
<line x1="449.90" y1="108.00" x2="449.90" y2="140.50" stroke="#383838" stroke-width="1.1"/>
<line x1="449.40" y1="140.00" x2="469.40" y2="140.00" stroke="#383838" stroke-width="1.1"/>
<line x1="447.70" y1="140.00" x2="449.90" y2="140.00" stroke="#383838" stroke-width="0.9"/>
<line x1="447.70" y1="132.80" x2="449.90" y2="132.80" stroke="#383838" stroke-width="0.9"/>
<line x1="447.70" y1="125.60" x2="449.90" y2="125.60" stroke="#383838" stroke-width="0.9"/>
<line x1="447.70" y1="118.40" x2="449.90" y2="118.40" stroke="#383838" stroke-width="0.9"/>
<line x1="447.70" y1="111.20" x2="449.90" y2="111.20" stroke="#383838" stroke-width="0.9"/>
<line x1="454.60" y1="140.00" x2="454.60" y2="142.20" stroke="#383838" stroke-width="0.8"/>
<line x1="464.40" y1="140.00" x2="464.40" y2="142.20" stroke="#383838" stroke-width="0.8"/>
<text x="455.00" y="151.80" font-size="7" text-anchor="middle" fill="#333" textLength="6.85" lengthAdjust="spacingAndGlyphs" stroke="#333" stroke-width="0.18">18</text>
<text x="464.70" y="151.80" font-size="7" text-anchor="middle" fill="#333" textLength="3.43" lengthAdjust="spacingAndGlyphs" stroke="#333" stroke-width="0.18">6</text>
<text x="460.50" y="158.60" font-size="6.3" text-anchor="middle" fill="#333" textLength="18.15" lengthAdjust="spacingAndGlyphs" stroke="#333" stroke-width="0.18">(5)(17)</text>
<line x1="454.60" y1="136.00" x2="464.40" y2="121.00" stroke="#2a2a2a" stroke-width="0.9"/>
<line x1="454.60" y1="136.00" x2="464.40" y2="128.10" stroke="#2a2a2a" stroke-width="0.9"/>
<rect x="453.00" y="134.40" width="3.20" height="3.20" fill="#b0163e"/>
<rect x="462.80" y="119.40" width="3.20" height="3.20" fill="#1b2f58"/>
<circle cx="464.40" cy="128.10" r="1.6" fill="#4a78b0" stroke="none" stroke-width="1"/>
<line x1="475.00" y1="113.80" x2="485.00" y2="113.80" stroke="#8a8a8a" stroke-width="1"/>
<circle cx="480.00" cy="113.80" r="1.35" fill="#111" stroke="none" stroke-width="1"/>
<text x="488.80" y="116.30" font-size="7.2" text-anchor="start" fill="#3a3a3a" font-style="italic" textLength="14.28" lengthAdjust="spacingAndGlyphs" stroke="#3a3a3a" stroke-width="0.18">TP53</text>
<line x1="475.00" y1="120.80" x2="485.00" y2="120.80" stroke="#8a8a8a" stroke-width="1"/>
<circle cx="480.00" cy="120.80" r="1.75" fill="#111" stroke="none" stroke-width="1"/>
<text x="488.80" y="123.30" font-size="7.2" text-anchor="start" fill="#3a3a3a" font-style="italic" textLength="20.26" lengthAdjust="spacingAndGlyphs" stroke="#3a3a3a" stroke-width="0.18">RUNX1</text>
<text x="279.60" y="198.10" font-size="6.6" text-anchor="end" fill="#333" textLength="14.6" lengthAdjust="spacingAndGlyphs" stroke="#333" stroke-width="0.18">Pat 4</text>
<text x="289.20" y="195.40" font-size="7" text-anchor="middle" fill="#262626" textLength="23" lengthAdjust="spacingAndGlyphs" transform="rotate(-90 289.2 195.4)" stroke="#262626" stroke-width="0.25">VAF (%)</text>
<text x="323.80" y="174.00" font-size="9" text-anchor="middle" fill="#1e1e1e" textLength="19.6" lengthAdjust="spacingAndGlyphs" stroke="#1e1e1e" stroke-width="0.18">MNC</text>
<line x1="314.00" y1="179.40" x2="314.00" y2="211.90" stroke="#383838" stroke-width="1.1"/>
<line x1="313.50" y1="211.40" x2="333.50" y2="211.40" stroke="#383838" stroke-width="1.1"/>
<line x1="311.80" y1="211.40" x2="314.00" y2="211.40" stroke="#383838" stroke-width="0.9"/>
<text x="308.10" y="213.70" font-size="6.5" text-anchor="end" fill="#262626" stroke="#262626" stroke-width="0.18">0.01</text>
<line x1="311.80" y1="204.20" x2="314.00" y2="204.20" stroke="#383838" stroke-width="0.9"/>
<text x="308.10" y="206.50" font-size="6.5" text-anchor="end" fill="#262626" stroke="#262626" stroke-width="0.18">0.1</text>
<line x1="311.80" y1="197.00" x2="314.00" y2="197.00" stroke="#383838" stroke-width="0.9"/>
<text x="308.10" y="199.30" font-size="6.5" text-anchor="end" fill="#262626" stroke="#262626" stroke-width="0.18">1</text>
<line x1="311.80" y1="189.80" x2="314.00" y2="189.80" stroke="#383838" stroke-width="0.9"/>
<text x="308.10" y="192.10" font-size="6.5" text-anchor="end" fill="#262626" stroke="#262626" stroke-width="0.18">10</text>
<line x1="311.80" y1="182.60" x2="314.00" y2="182.60" stroke="#383838" stroke-width="0.9"/>
<text x="308.10" y="184.90" font-size="6.5" text-anchor="end" fill="#262626" stroke="#262626" stroke-width="0.18">100</text>
<line x1="318.70" y1="211.40" x2="318.70" y2="213.60" stroke="#383838" stroke-width="0.8"/>
<line x1="328.50" y1="211.40" x2="328.50" y2="213.60" stroke="#383838" stroke-width="0.8"/>
<text x="319.10" y="223.20" font-size="7" text-anchor="middle" fill="#333" textLength="6.85" lengthAdjust="spacingAndGlyphs" stroke="#333" stroke-width="0.18">13</text>
<text x="328.80" y="223.20" font-size="7" text-anchor="middle" fill="#333" textLength="6.85" lengthAdjust="spacingAndGlyphs" stroke="#333" stroke-width="0.18">10</text>
<text x="324.60" y="230.00" font-size="6.3" text-anchor="middle" fill="#333" textLength="17.7" lengthAdjust="spacingAndGlyphs" stroke="#333" stroke-width="0.18">(8)(11)</text>
<line x1="318.70" y1="202.80" x2="318.70" y2="208.50" stroke="#b0163e" stroke-width="0.8"/>
<line x1="317.70" y1="202.80" x2="319.70" y2="202.80" stroke="#b0163e" stroke-width="0.7"/>
<line x1="328.50" y1="206.90" x2="328.50" y2="211.90" stroke="#b0163e" stroke-width="0.8"/>
<line x1="327.50" y1="206.90" x2="329.50" y2="206.90" stroke="#b0163e" stroke-width="0.7"/>
<line x1="318.70" y1="205.70" x2="328.50" y2="208.90" stroke="#777" stroke-width="0.9"/>
<line x1="318.70" y1="211.40" x2="328.50" y2="210.80" stroke="#777" stroke-width="0.9"/>
<circle cx="318.70" cy="205.70" r="1.6" fill="#b0163e" stroke="none" stroke-width="1"/>
<circle cx="318.70" cy="211.20" r="1.6" fill="#b0163e" stroke="none" stroke-width="1"/>
<circle cx="328.50" cy="208.90" r="1.6" fill="#b0163e" stroke="none" stroke-width="1"/>
<circle cx="328.50" cy="210.60" r="1.6" fill="#b0163e" stroke="none" stroke-width="1"/>
<text x="357.20" y="174.00" font-size="9" text-anchor="middle" fill="#1e1e1e" textLength="22" lengthAdjust="spacingAndGlyphs" stroke="#1e1e1e" stroke-width="0.18">LMPP</text>
<line x1="347.40" y1="179.40" x2="347.40" y2="211.90" stroke="#383838" stroke-width="1.1"/>
<line x1="346.90" y1="211.40" x2="366.90" y2="211.40" stroke="#383838" stroke-width="1.1"/>
<line x1="345.20" y1="211.40" x2="347.40" y2="211.40" stroke="#383838" stroke-width="0.9"/>
<line x1="345.20" y1="204.20" x2="347.40" y2="204.20" stroke="#383838" stroke-width="0.9"/>
<line x1="345.20" y1="197.00" x2="347.40" y2="197.00" stroke="#383838" stroke-width="0.9"/>
<line x1="345.20" y1="189.80" x2="347.40" y2="189.80" stroke="#383838" stroke-width="0.9"/>
<line x1="345.20" y1="182.60" x2="347.40" y2="182.60" stroke="#383838" stroke-width="0.9"/>
<line x1="352.10" y1="211.40" x2="352.10" y2="213.60" stroke="#383838" stroke-width="0.8"/>
<line x1="361.90" y1="211.40" x2="361.90" y2="213.60" stroke="#383838" stroke-width="0.8"/>
<text x="352.50" y="223.20" font-size="7" text-anchor="middle" fill="#333" textLength="6.85" lengthAdjust="spacingAndGlyphs" stroke="#333" stroke-width="0.18">13</text>
<text x="362.20" y="223.20" font-size="7" text-anchor="middle" fill="#333" textLength="6.85" lengthAdjust="spacingAndGlyphs" stroke="#333" stroke-width="0.18">10</text>
<text x="358.00" y="230.00" font-size="6.3" text-anchor="middle" fill="#333" textLength="17.7" lengthAdjust="spacingAndGlyphs" stroke="#333" stroke-width="0.18">(8)(11)</text>
<line x1="352.10" y1="197.60" x2="361.90" y2="197.40" stroke="#3a4a6a" stroke-width="0.9"/>
<rect x="350.50" y="196.00" width="3.20" height="3.20" fill="#1b2f58"/>
<rect x="360.30" y="193.70" width="3.20" height="3.20" fill="#1b2f58"/>
<rect x="360.30" y="197.80" width="3.20" height="3.20" fill="#1b2f58"/>
<text x="391.20" y="174.00" font-size="9" text-anchor="middle" fill="#1e1e1e" textLength="19" lengthAdjust="spacingAndGlyphs" stroke="#1e1e1e" stroke-width="0.18">GMP</text>
<line x1="381.40" y1="179.40" x2="381.40" y2="211.90" stroke="#383838" stroke-width="1.1"/>
<line x1="380.90" y1="211.40" x2="400.90" y2="211.40" stroke="#383838" stroke-width="1.1"/>
<line x1="379.20" y1="211.40" x2="381.40" y2="211.40" stroke="#383838" stroke-width="0.9"/>
<line x1="379.20" y1="204.20" x2="381.40" y2="204.20" stroke="#383838" stroke-width="0.9"/>
<line x1="379.20" y1="197.00" x2="381.40" y2="197.00" stroke="#383838" stroke-width="0.9"/>
<line x1="379.20" y1="189.80" x2="381.40" y2="189.80" stroke="#383838" stroke-width="0.9"/>
<line x1="379.20" y1="182.60" x2="381.40" y2="182.60" stroke="#383838" stroke-width="0.9"/>
<line x1="386.10" y1="211.40" x2="386.10" y2="213.60" stroke="#383838" stroke-width="0.8"/>
<line x1="395.90" y1="211.40" x2="395.90" y2="213.60" stroke="#383838" stroke-width="0.8"/>
<text x="386.50" y="223.20" font-size="7" text-anchor="middle" fill="#333" textLength="6.85" lengthAdjust="spacingAndGlyphs" stroke="#333" stroke-width="0.18">13</text>
<text x="396.20" y="223.20" font-size="7" text-anchor="middle" fill="#333" textLength="6.85" lengthAdjust="spacingAndGlyphs" stroke="#333" stroke-width="0.18">10</text>
<text x="392.00" y="230.00" font-size="6.3" text-anchor="middle" fill="#333" textLength="17.7" lengthAdjust="spacingAndGlyphs" stroke="#333" stroke-width="0.18">(8)(11)</text>
<line x1="386.10" y1="205.40" x2="386.10" y2="211.40" stroke="#b0163e" stroke-width="0.8"/>
<line x1="385.10" y1="205.40" x2="387.10" y2="205.40" stroke="#b0163e" stroke-width="0.7"/>
<line x1="395.90" y1="201.00" x2="395.90" y2="205.40" stroke="#5cb85c" stroke-width="0.8"/>
<line x1="394.90" y1="201.00" x2="396.90" y2="201.00" stroke="#5cb85c" stroke-width="0.7"/>
<line x1="386.10" y1="209.70" x2="395.90" y2="199.30" stroke="#2a2a2a" stroke-width="0.9"/>
<line x1="386.10" y1="211.40" x2="395.90" y2="201.00" stroke="#2a2a2a" stroke-width="0.9"/>
<circle cx="386.10" cy="209.70" r="1.6" fill="#b0163e" stroke="none" stroke-width="1"/>
<circle cx="386.10" cy="211.10" r="1.6" fill="#b0163e" stroke="none" stroke-width="1"/>
<rect x="394.30" y="197.70" width="3.20" height="3.20" fill="#2a8a6a"/>
<rect x="394.30" y="199.40" width="3.20" height="3.20" fill="#5cb85c"/>
<line x1="412.20" y1="186.30" x2="422.20" y2="186.30" stroke="#8a8a8a" stroke-width="1"/>
<circle cx="417.20" cy="186.30" r="1.35" fill="#111" stroke="none" stroke-width="1"/>
<text x="428.20" y="188.80" font-size="7.2" text-anchor="start" fill="#3a3a3a" font-style="italic" textLength="19.26" lengthAdjust="spacingAndGlyphs" stroke="#3a3a3a" stroke-width="0.18">SRSF2</text>
<line x1="412.20" y1="193.00" x2="422.20" y2="193.00" stroke="#8a8a8a" stroke-width="1"/>
<circle cx="417.20" cy="193.00" r="1.75" fill="#111" stroke="none" stroke-width="1"/>
<text x="428.20" y="195.50" font-size="7.2" text-anchor="start" fill="#3a3a3a" font-style="italic" textLength="13.62" lengthAdjust="spacingAndGlyphs" stroke="#3a3a3a" stroke-width="0.18">IDH2</text>
<text x="279.60" y="271.00" font-size="6.6" text-anchor="end" fill="#333" textLength="14.6" lengthAdjust="spacingAndGlyphs" stroke="#333" stroke-width="0.18">Pat 5</text>
<text x="289.20" y="268.30" font-size="7" text-anchor="middle" fill="#262626" textLength="23" lengthAdjust="spacingAndGlyphs" transform="rotate(-90 289.2 268.3)" stroke="#262626" stroke-width="0.25">VAF (%)</text>
<text x="323.80" y="246.90" font-size="9" text-anchor="middle" fill="#1e1e1e" textLength="19.6" lengthAdjust="spacingAndGlyphs" stroke="#1e1e1e" stroke-width="0.18">MNC</text>
<line x1="314.00" y1="252.30" x2="314.00" y2="284.80" stroke="#383838" stroke-width="1.1"/>
<line x1="313.50" y1="284.30" x2="333.50" y2="284.30" stroke="#383838" stroke-width="1.1"/>
<line x1="311.80" y1="284.30" x2="314.00" y2="284.30" stroke="#383838" stroke-width="0.9"/>
<text x="308.10" y="286.60" font-size="6.5" text-anchor="end" fill="#262626" stroke="#262626" stroke-width="0.18">0.01</text>
<line x1="311.80" y1="277.10" x2="314.00" y2="277.10" stroke="#383838" stroke-width="0.9"/>
<text x="308.10" y="279.40" font-size="6.5" text-anchor="end" fill="#262626" stroke="#262626" stroke-width="0.18">0.1</text>
<line x1="311.80" y1="269.90" x2="314.00" y2="269.90" stroke="#383838" stroke-width="0.9"/>
<text x="308.10" y="272.20" font-size="6.5" text-anchor="end" fill="#262626" stroke="#262626" stroke-width="0.18">1</text>
<line x1="311.80" y1="262.70" x2="314.00" y2="262.70" stroke="#383838" stroke-width="0.9"/>
<text x="308.10" y="265.00" font-size="6.5" text-anchor="end" fill="#262626" stroke="#262626" stroke-width="0.18">10</text>
<line x1="311.80" y1="255.50" x2="314.00" y2="255.50" stroke="#383838" stroke-width="0.9"/>
<text x="308.10" y="257.80" font-size="6.5" text-anchor="end" fill="#262626" stroke="#262626" stroke-width="0.18">100</text>
<line x1="318.70" y1="284.30" x2="318.70" y2="286.50" stroke="#383838" stroke-width="0.8"/>
<line x1="328.50" y1="284.30" x2="328.50" y2="286.50" stroke="#383838" stroke-width="0.8"/>
<text x="319.10" y="296.10" font-size="7" text-anchor="middle" fill="#333" textLength="6.85" lengthAdjust="spacingAndGlyphs" stroke="#333" stroke-width="0.18">10</text>
<text x="328.80" y="296.10" font-size="7" text-anchor="middle" fill="#333" textLength="3.43" lengthAdjust="spacingAndGlyphs" stroke="#333" stroke-width="0.18">3</text>
<text x="324.60" y="302.90" font-size="6.3" text-anchor="middle" fill="#333" textLength="18.15" lengthAdjust="spacingAndGlyphs" stroke="#333" stroke-width="0.18">(6)(13)</text>
<line x1="318.70" y1="284.30" x2="328.50" y2="282.80" stroke="#4a6a5a" stroke-width="0.9"/>
<circle cx="318.70" cy="284.10" r="2" fill="#b0163e" stroke="none" stroke-width="1"/>
<circle cx="328.50" cy="283.10" r="1.6" fill="#b0163e" stroke="none" stroke-width="1"/>
<circle cx="328.50" cy="281.70" r="1.6" fill="#b0163e" stroke="none" stroke-width="1"/>
<circle cx="328.50" cy="280.30" r="1.6" fill="#b0163e" stroke="none" stroke-width="1"/>
<rect x="326.90" y="277.40" width="3.20" height="3.20" fill="#b0163e"/>
<text x="357.20" y="246.90" font-size="9" text-anchor="middle" fill="#1e1e1e" textLength="16.5" lengthAdjust="spacingAndGlyphs" stroke="#1e1e1e" stroke-width="0.18">HSC</text>
<line x1="347.40" y1="252.30" x2="347.40" y2="284.80" stroke="#383838" stroke-width="1.1"/>
<line x1="346.90" y1="284.30" x2="366.90" y2="284.30" stroke="#383838" stroke-width="1.1"/>
<line x1="345.20" y1="284.30" x2="347.40" y2="284.30" stroke="#383838" stroke-width="0.9"/>
<line x1="345.20" y1="277.10" x2="347.40" y2="277.10" stroke="#383838" stroke-width="0.9"/>
<line x1="345.20" y1="269.90" x2="347.40" y2="269.90" stroke="#383838" stroke-width="0.9"/>
<line x1="345.20" y1="262.70" x2="347.40" y2="262.70" stroke="#383838" stroke-width="0.9"/>
<line x1="345.20" y1="255.50" x2="347.40" y2="255.50" stroke="#383838" stroke-width="0.9"/>
<line x1="352.10" y1="284.30" x2="352.10" y2="286.50" stroke="#383838" stroke-width="0.8"/>
<line x1="361.90" y1="284.30" x2="361.90" y2="286.50" stroke="#383838" stroke-width="0.8"/>
<text x="352.50" y="296.10" font-size="7" text-anchor="middle" fill="#333" textLength="6.85" lengthAdjust="spacingAndGlyphs" stroke="#333" stroke-width="0.18">10</text>
<text x="362.20" y="296.10" font-size="7" text-anchor="middle" fill="#333" textLength="3.43" lengthAdjust="spacingAndGlyphs" stroke="#333" stroke-width="0.18">3</text>
<text x="358.00" y="302.90" font-size="6.3" text-anchor="middle" fill="#333" textLength="18.15" lengthAdjust="spacingAndGlyphs" stroke="#333" stroke-width="0.18">(6)(13)</text>
<line x1="352.10" y1="264.10" x2="361.90" y2="255.50" stroke="#2a2a2a" stroke-width="0.9"/>
<line x1="352.10" y1="268.20" x2="361.90" y2="255.50" stroke="#2a2a2a" stroke-width="0.9"/>
<circle cx="352.10" cy="264.10" r="1.6" fill="#1b2f58" stroke="none" stroke-width="1"/>
<rect x="350.50" y="266.60" width="3.20" height="3.20" fill="#1b2f58"/>
<circle cx="361.90" cy="255.50" r="1.6" fill="#1b2f58" stroke="none" stroke-width="1"/>
<text x="391.20" y="246.90" font-size="9" text-anchor="middle" fill="#1e1e1e" textLength="17.8" lengthAdjust="spacingAndGlyphs" stroke="#1e1e1e" stroke-width="0.18">MPP</text>
<line x1="381.40" y1="252.30" x2="381.40" y2="284.80" stroke="#383838" stroke-width="1.1"/>
<line x1="380.90" y1="284.30" x2="400.90" y2="284.30" stroke="#383838" stroke-width="1.1"/>
<line x1="379.20" y1="284.30" x2="381.40" y2="284.30" stroke="#383838" stroke-width="0.9"/>
<line x1="379.20" y1="277.10" x2="381.40" y2="277.10" stroke="#383838" stroke-width="0.9"/>
<line x1="379.20" y1="269.90" x2="381.40" y2="269.90" stroke="#383838" stroke-width="0.9"/>
<line x1="379.20" y1="262.70" x2="381.40" y2="262.70" stroke="#383838" stroke-width="0.9"/>
<line x1="379.20" y1="255.50" x2="381.40" y2="255.50" stroke="#383838" stroke-width="0.9"/>
<line x1="386.10" y1="284.30" x2="386.10" y2="286.50" stroke="#383838" stroke-width="0.8"/>
<line x1="395.90" y1="284.30" x2="395.90" y2="286.50" stroke="#383838" stroke-width="0.8"/>
<text x="386.50" y="296.10" font-size="7" text-anchor="middle" fill="#333" textLength="6.85" lengthAdjust="spacingAndGlyphs" stroke="#333" stroke-width="0.18">10</text>
<text x="396.20" y="296.10" font-size="7" text-anchor="middle" fill="#333" textLength="3.43" lengthAdjust="spacingAndGlyphs" stroke="#333" stroke-width="0.18">3</text>
<text x="392.00" y="302.90" font-size="6.3" text-anchor="middle" fill="#333" textLength="18.15" lengthAdjust="spacingAndGlyphs" stroke="#333" stroke-width="0.18">(6)(13)</text>
<line x1="395.90" y1="276.80" x2="395.90" y2="287.30" stroke="#5cb85c" stroke-width="0.8"/>
<line x1="394.90" y1="276.80" x2="396.90" y2="276.80" stroke="#5cb85c" stroke-width="0.7"/>
<line x1="386.10" y1="270.20" x2="395.90" y2="257.80" stroke="#2a2a2a" stroke-width="0.9"/>
<line x1="386.10" y1="274.20" x2="395.90" y2="276.80" stroke="#2a2a2a" stroke-width="0.9"/>
<circle cx="386.10" cy="270.20" r="1.6" fill="#1b2f58" stroke="none" stroke-width="1"/>
<rect x="384.50" y="272.60" width="3.20" height="3.20" fill="#5cb85c"/>
<circle cx="395.90" cy="257.80" r="1.6" fill="#1b2f58" stroke="none" stroke-width="1"/>
<rect x="394.30" y="275.20" width="3.20" height="3.20" fill="#5cb85c"/>
<text x="425.40" y="246.90" font-size="9" text-anchor="middle" fill="#1e1e1e" textLength="17.8" lengthAdjust="spacingAndGlyphs" stroke="#1e1e1e" stroke-width="0.18">CMP</text>
<line x1="415.60" y1="252.30" x2="415.60" y2="284.80" stroke="#383838" stroke-width="1.1"/>
<line x1="415.10" y1="284.30" x2="435.10" y2="284.30" stroke="#383838" stroke-width="1.1"/>
<line x1="413.40" y1="284.30" x2="415.60" y2="284.30" stroke="#383838" stroke-width="0.9"/>
<line x1="413.40" y1="277.10" x2="415.60" y2="277.10" stroke="#383838" stroke-width="0.9"/>
<line x1="413.40" y1="269.90" x2="415.60" y2="269.90" stroke="#383838" stroke-width="0.9"/>
<line x1="413.40" y1="262.70" x2="415.60" y2="262.70" stroke="#383838" stroke-width="0.9"/>
<line x1="413.40" y1="255.50" x2="415.60" y2="255.50" stroke="#383838" stroke-width="0.9"/>
<line x1="420.30" y1="284.30" x2="420.30" y2="286.50" stroke="#383838" stroke-width="0.8"/>
<line x1="430.10" y1="284.30" x2="430.10" y2="286.50" stroke="#383838" stroke-width="0.8"/>
<text x="420.70" y="296.10" font-size="7" text-anchor="middle" fill="#333" textLength="6.85" lengthAdjust="spacingAndGlyphs" stroke="#333" stroke-width="0.18">10</text>
<text x="430.40" y="296.10" font-size="7" text-anchor="middle" fill="#333" textLength="3.43" lengthAdjust="spacingAndGlyphs" stroke="#333" stroke-width="0.18">3</text>
<text x="426.20" y="302.90" font-size="6.3" text-anchor="middle" fill="#333" textLength="18.15" lengthAdjust="spacingAndGlyphs" stroke="#333" stroke-width="0.18">(6)(13)</text>
<line x1="420.30" y1="280.20" x2="420.30" y2="287.30" stroke="#b0163e" stroke-width="0.8"/>
<line x1="419.30" y1="280.20" x2="421.30" y2="280.20" stroke="#b0163e" stroke-width="0.7"/>
<line x1="430.10" y1="280.20" x2="430.10" y2="287.30" stroke="#b0163e" stroke-width="0.8"/>
<line x1="429.10" y1="280.20" x2="431.10" y2="280.20" stroke="#b0163e" stroke-width="0.7"/>
<line x1="420.30" y1="264.40" x2="430.10" y2="273.60" stroke="#2a2a2a" stroke-width="0.9"/>
<line x1="420.30" y1="280.20" x2="430.10" y2="280.20" stroke="#2a2a2a" stroke-width="0.9"/>
<circle cx="420.30" cy="264.40" r="1.6" fill="#1b2f58" stroke="none" stroke-width="1"/>
<rect x="418.70" y="278.60" width="3.20" height="3.20" fill="#b0163e"/>
<rect x="428.50" y="272.00" width="3.20" height="3.20" fill="#5cb85c"/>
<rect x="428.50" y="278.60" width="3.20" height="3.20" fill="#b0163e"/>
<text x="459.70" y="246.90" font-size="9" text-anchor="middle" fill="#1e1e1e" textLength="19" lengthAdjust="spacingAndGlyphs" stroke="#1e1e1e" stroke-width="0.18">GMP</text>
<line x1="449.90" y1="252.30" x2="449.90" y2="284.80" stroke="#383838" stroke-width="1.1"/>
<line x1="449.40" y1="284.30" x2="469.40" y2="284.30" stroke="#383838" stroke-width="1.1"/>
<line x1="447.70" y1="284.30" x2="449.90" y2="284.30" stroke="#383838" stroke-width="0.9"/>
<line x1="447.70" y1="277.10" x2="449.90" y2="277.10" stroke="#383838" stroke-width="0.9"/>
<line x1="447.70" y1="269.90" x2="449.90" y2="269.90" stroke="#383838" stroke-width="0.9"/>
<line x1="447.70" y1="262.70" x2="449.90" y2="262.70" stroke="#383838" stroke-width="0.9"/>
<line x1="447.70" y1="255.50" x2="449.90" y2="255.50" stroke="#383838" stroke-width="0.9"/>
<line x1="454.60" y1="284.30" x2="454.60" y2="286.50" stroke="#383838" stroke-width="0.8"/>
<line x1="464.40" y1="284.30" x2="464.40" y2="286.50" stroke="#383838" stroke-width="0.8"/>
<text x="455.00" y="296.10" font-size="7" text-anchor="middle" fill="#333" textLength="6.85" lengthAdjust="spacingAndGlyphs" stroke="#333" stroke-width="0.18">10</text>
<text x="464.70" y="296.10" font-size="7" text-anchor="middle" fill="#333" textLength="3.43" lengthAdjust="spacingAndGlyphs" stroke="#333" stroke-width="0.18">3</text>
<text x="460.50" y="302.90" font-size="6.3" text-anchor="middle" fill="#333" textLength="18.15" lengthAdjust="spacingAndGlyphs" stroke="#333" stroke-width="0.18">(6)(13)</text>
<line x1="454.60" y1="278.30" x2="454.60" y2="286.30" stroke="#b0163e" stroke-width="0.8"/>
<line x1="453.60" y1="278.30" x2="455.60" y2="278.30" stroke="#b0163e" stroke-width="0.7"/>
<line x1="464.40" y1="278.30" x2="464.40" y2="286.30" stroke="#b0163e" stroke-width="0.8"/>
<line x1="463.40" y1="278.30" x2="465.40" y2="278.30" stroke="#b0163e" stroke-width="0.7"/>
<line x1="454.60" y1="279.80" x2="464.40" y2="273.90" stroke="#2a2a2a" stroke-width="0.9"/>
<line x1="454.60" y1="284.30" x2="464.40" y2="278.30" stroke="#2a2a2a" stroke-width="0.9"/>
<rect x="453.00" y="278.20" width="3.20" height="3.20" fill="#b0163e"/>
<circle cx="454.60" cy="284.10" r="1.6" fill="#b0163e" stroke="none" stroke-width="1"/>
<circle cx="464.40" cy="273.90" r="1.6" fill="#1b2f58" stroke="none" stroke-width="1"/>
<rect x="462.80" y="276.70" width="3.20" height="3.20" fill="#b0163e"/>
<line x1="475.00" y1="259.00" x2="485.00" y2="259.00" stroke="#8a8a8a" stroke-width="1"/>
<circle cx="480.00" cy="259.00" r="1.35" fill="#111" stroke="none" stroke-width="1"/>
<text x="488.80" y="261.50" font-size="7.2" text-anchor="start" fill="#3a3a3a" font-style="italic" textLength="14.28" lengthAdjust="spacingAndGlyphs" stroke="#3a3a3a" stroke-width="0.18">TP53</text>
<line x1="475.00" y1="267.30" x2="485.00" y2="267.30" stroke="#8a8a8a" stroke-width="1"/>
<circle cx="480.00" cy="267.30" r="1.75" fill="#111" stroke="none" stroke-width="1"/>
<text x="488.80" y="269.80" font-size="7.2" text-anchor="start" fill="#3a3a3a" font-style="italic" textLength="22.92" lengthAdjust="spacingAndGlyphs" stroke="#3a3a3a" stroke-width="0.18">SETBP1</text>
<text x="279.60" y="344.00" font-size="6.6" text-anchor="end" fill="#333" textLength="14.6" lengthAdjust="spacingAndGlyphs" stroke="#333" stroke-width="0.18">Pat 6</text>
<text x="289.20" y="341.30" font-size="7" text-anchor="middle" fill="#262626" textLength="23" lengthAdjust="spacingAndGlyphs" transform="rotate(-90 289.2 341.3)" stroke="#262626" stroke-width="0.25">VAF (%)</text>
<text x="323.80" y="319.90" font-size="9" text-anchor="middle" fill="#1e1e1e" textLength="19.6" lengthAdjust="spacingAndGlyphs" stroke="#1e1e1e" stroke-width="0.18">MNC</text>
<line x1="314.00" y1="325.30" x2="314.00" y2="357.80" stroke="#383838" stroke-width="1.1"/>
<line x1="313.50" y1="357.30" x2="333.50" y2="357.30" stroke="#383838" stroke-width="1.1"/>
<line x1="311.80" y1="357.30" x2="314.00" y2="357.30" stroke="#383838" stroke-width="0.9"/>
<text x="308.10" y="359.60" font-size="6.5" text-anchor="end" fill="#262626" stroke="#262626" stroke-width="0.18">0.01</text>
<line x1="311.80" y1="350.10" x2="314.00" y2="350.10" stroke="#383838" stroke-width="0.9"/>
<text x="308.10" y="352.40" font-size="6.5" text-anchor="end" fill="#262626" stroke="#262626" stroke-width="0.18">0.1</text>
<line x1="311.80" y1="342.90" x2="314.00" y2="342.90" stroke="#383838" stroke-width="0.9"/>
<text x="308.10" y="345.20" font-size="6.5" text-anchor="end" fill="#262626" stroke="#262626" stroke-width="0.18">1</text>
<line x1="311.80" y1="335.70" x2="314.00" y2="335.70" stroke="#383838" stroke-width="0.9"/>
<text x="308.10" y="338.00" font-size="6.5" text-anchor="end" fill="#262626" stroke="#262626" stroke-width="0.18">10</text>
<line x1="311.80" y1="328.50" x2="314.00" y2="328.50" stroke="#383838" stroke-width="0.9"/>
<text x="308.10" y="330.80" font-size="6.5" text-anchor="end" fill="#262626" stroke="#262626" stroke-width="0.18">100</text>
<line x1="318.70" y1="357.30" x2="318.70" y2="359.50" stroke="#383838" stroke-width="0.8"/>
<line x1="328.50" y1="357.30" x2="328.50" y2="359.50" stroke="#383838" stroke-width="0.8"/>
<text x="319.10" y="369.10" font-size="7" text-anchor="middle" fill="#333" textLength="3.43" lengthAdjust="spacingAndGlyphs" stroke="#333" stroke-width="0.18">7</text>
<text x="328.80" y="369.10" font-size="7" text-anchor="middle" fill="#333" textLength="3.43" lengthAdjust="spacingAndGlyphs" stroke="#333" stroke-width="0.18">5</text>
<text x="319.00" y="375.90" font-size="6.3" text-anchor="middle" fill="#333" stroke="#333" stroke-width="0.18">(2)</text>
<text x="328.80" y="375.90" font-size="6.3" text-anchor="middle" fill="#333" stroke="#333" stroke-width="0.18">(4)</text>
<line x1="328.50" y1="350.10" x2="328.50" y2="357.30" stroke="#b0163e" stroke-width="0.8"/>
<line x1="327.50" y1="350.10" x2="329.50" y2="350.10" stroke="#b0163e" stroke-width="0.7"/>
<line x1="318.70" y1="355.30" x2="328.50" y2="352.80" stroke="#666" stroke-width="0.9"/>
<line x1="318.70" y1="355.30" x2="328.50" y2="357.30" stroke="#666" stroke-width="0.9"/>
<rect x="317.10" y="355.10" width="3.20" height="3.20" fill="#b0163e"/>
<rect x="317.10" y="353.70" width="3.20" height="3.20" fill="#b0163e"/>
<rect x="317.10" y="352.20" width="3.20" height="3.20" fill="#b0163e"/>
<circle cx="328.50" cy="352.80" r="1.6" fill="#b0163e" stroke="none" stroke-width="1"/>
<circle cx="328.50" cy="357.10" r="1.6" fill="#b0163e" stroke="none" stroke-width="1"/>
<text x="357.20" y="319.90" font-size="9" text-anchor="middle" fill="#1e1e1e" textLength="17.8" lengthAdjust="spacingAndGlyphs" stroke="#1e1e1e" stroke-width="0.18">MPP</text>
<line x1="347.40" y1="325.30" x2="347.40" y2="357.80" stroke="#383838" stroke-width="1.1"/>
<line x1="346.90" y1="357.30" x2="366.90" y2="357.30" stroke="#383838" stroke-width="1.1"/>
<line x1="345.20" y1="357.30" x2="347.40" y2="357.30" stroke="#383838" stroke-width="0.9"/>
<line x1="345.20" y1="350.10" x2="347.40" y2="350.10" stroke="#383838" stroke-width="0.9"/>
<line x1="345.20" y1="342.90" x2="347.40" y2="342.90" stroke="#383838" stroke-width="0.9"/>
<line x1="345.20" y1="335.70" x2="347.40" y2="335.70" stroke="#383838" stroke-width="0.9"/>
<line x1="345.20" y1="328.50" x2="347.40" y2="328.50" stroke="#383838" stroke-width="0.9"/>
<line x1="352.10" y1="357.30" x2="352.10" y2="359.50" stroke="#383838" stroke-width="0.8"/>
<line x1="361.90" y1="357.30" x2="361.90" y2="359.50" stroke="#383838" stroke-width="0.8"/>
<text x="352.50" y="369.10" font-size="7" text-anchor="middle" fill="#333" textLength="3.43" lengthAdjust="spacingAndGlyphs" stroke="#333" stroke-width="0.18">7</text>
<text x="362.20" y="369.10" font-size="7" text-anchor="middle" fill="#333" textLength="3.43" lengthAdjust="spacingAndGlyphs" stroke="#333" stroke-width="0.18">5</text>
<text x="352.40" y="375.90" font-size="6.3" text-anchor="middle" fill="#333" stroke="#333" stroke-width="0.18">(2)</text>
<text x="362.20" y="375.90" font-size="6.3" text-anchor="middle" fill="#333" stroke="#333" stroke-width="0.18">(4)</text>
<line x1="352.10" y1="334.60" x2="361.90" y2="337.80" stroke="#2a2a2a" stroke-width="0.9"/>
<line x1="352.10" y1="336.90" x2="361.90" y2="340.10" stroke="#2a2a2a" stroke-width="0.9"/>
<line x1="352.10" y1="344.10" x2="361.90" y2="345.00" stroke="#2a2a2a" stroke-width="0.9"/>
<rect x="350.50" y="333.00" width="3.20" height="3.20" fill="#1b2f58"/>
<rect x="350.50" y="335.30" width="3.20" height="3.20" fill="#1b2f58"/>
<circle cx="352.10" cy="344.10" r="1.6" fill="#1b2f58" stroke="none" stroke-width="1"/>
<rect x="360.30" y="336.20" width="3.20" height="3.20" fill="#1b2f58"/>
<rect x="360.30" y="338.50" width="3.20" height="3.20" fill="#1b2f58"/>
<circle cx="361.90" cy="345.00" r="1.6" fill="#1b2f58" stroke="none" stroke-width="1"/>
<text x="391.20" y="319.90" font-size="9" text-anchor="middle" fill="#1e1e1e" textLength="22" lengthAdjust="spacingAndGlyphs" stroke="#1e1e1e" stroke-width="0.18">LMPP</text>
<line x1="381.40" y1="325.30" x2="381.40" y2="357.80" stroke="#383838" stroke-width="1.1"/>
<line x1="380.90" y1="357.30" x2="400.90" y2="357.30" stroke="#383838" stroke-width="1.1"/>
<line x1="379.20" y1="357.30" x2="381.40" y2="357.30" stroke="#383838" stroke-width="0.9"/>
<line x1="379.20" y1="350.10" x2="381.40" y2="350.10" stroke="#383838" stroke-width="0.9"/>
<line x1="379.20" y1="342.90" x2="381.40" y2="342.90" stroke="#383838" stroke-width="0.9"/>
<line x1="379.20" y1="335.70" x2="381.40" y2="335.70" stroke="#383838" stroke-width="0.9"/>
<line x1="379.20" y1="328.50" x2="381.40" y2="328.50" stroke="#383838" stroke-width="0.9"/>
<line x1="386.10" y1="357.30" x2="386.10" y2="359.50" stroke="#383838" stroke-width="0.8"/>
<line x1="395.90" y1="357.30" x2="395.90" y2="359.50" stroke="#383838" stroke-width="0.8"/>
<text x="386.50" y="369.10" font-size="7" text-anchor="middle" fill="#333" textLength="3.43" lengthAdjust="spacingAndGlyphs" stroke="#333" stroke-width="0.18">7</text>
<text x="396.20" y="369.10" font-size="7" text-anchor="middle" fill="#333" textLength="3.43" lengthAdjust="spacingAndGlyphs" stroke="#333" stroke-width="0.18">5</text>
<text x="386.40" y="375.90" font-size="6.3" text-anchor="middle" fill="#333" stroke="#333" stroke-width="0.18">(2)</text>
<text x="396.20" y="375.90" font-size="6.3" text-anchor="middle" fill="#333" stroke="#333" stroke-width="0.18">(4)</text>
<line x1="386.10" y1="350.80" x2="386.10" y2="360.30" stroke="#5cb85c" stroke-width="0.8"/>
<line x1="385.10" y1="350.80" x2="387.10" y2="350.80" stroke="#5cb85c" stroke-width="0.7"/>
<line x1="386.10" y1="337.50" x2="395.90" y2="335.20" stroke="#2a2a2a" stroke-width="0.9"/>
<line x1="386.10" y1="339.80" x2="395.90" y2="337.50" stroke="#2a2a2a" stroke-width="0.9"/>
<line x1="386.10" y1="350.80" x2="395.90" y2="347.50" stroke="#2a2a2a" stroke-width="0.9"/>
<rect x="384.50" y="335.90" width="3.20" height="3.20" fill="#1b2f58"/>
<rect x="384.50" y="338.20" width="3.20" height="3.20" fill="#1b2f58"/>
<rect x="394.30" y="333.60" width="3.20" height="3.20" fill="#1b2f58"/>
<rect x="394.30" y="335.90" width="3.20" height="3.20" fill="#1b2f58"/>
<circle cx="386.10" cy="350.80" r="1.6" fill="#5cb85c" stroke="none" stroke-width="1"/>
<circle cx="395.90" cy="347.50" r="1.6" fill="#1b2f58" stroke="none" stroke-width="1"/>
<text x="425.40" y="319.90" font-size="9" text-anchor="middle" fill="#1e1e1e" textLength="17.8" lengthAdjust="spacingAndGlyphs" stroke="#1e1e1e" stroke-width="0.18">CMP</text>
<line x1="415.60" y1="325.30" x2="415.60" y2="357.80" stroke="#383838" stroke-width="1.1"/>
<line x1="415.10" y1="357.30" x2="435.10" y2="357.30" stroke="#383838" stroke-width="1.1"/>
<line x1="413.40" y1="357.30" x2="415.60" y2="357.30" stroke="#383838" stroke-width="0.9"/>
<line x1="413.40" y1="350.10" x2="415.60" y2="350.10" stroke="#383838" stroke-width="0.9"/>
<line x1="413.40" y1="342.90" x2="415.60" y2="342.90" stroke="#383838" stroke-width="0.9"/>
<line x1="413.40" y1="335.70" x2="415.60" y2="335.70" stroke="#383838" stroke-width="0.9"/>
<line x1="413.40" y1="328.50" x2="415.60" y2="328.50" stroke="#383838" stroke-width="0.9"/>
<line x1="420.30" y1="357.30" x2="420.30" y2="359.50" stroke="#383838" stroke-width="0.8"/>
<line x1="430.10" y1="357.30" x2="430.10" y2="359.50" stroke="#383838" stroke-width="0.8"/>
<text x="420.70" y="369.10" font-size="7" text-anchor="middle" fill="#333" textLength="3.43" lengthAdjust="spacingAndGlyphs" stroke="#333" stroke-width="0.18">7</text>
<text x="430.40" y="369.10" font-size="7" text-anchor="middle" fill="#333" textLength="3.43" lengthAdjust="spacingAndGlyphs" stroke="#333" stroke-width="0.18">5</text>
<text x="420.60" y="375.90" font-size="6.3" text-anchor="middle" fill="#333" stroke="#333" stroke-width="0.18">(2)</text>
<text x="430.40" y="375.90" font-size="6.3" text-anchor="middle" fill="#333" stroke="#333" stroke-width="0.18">(4)</text>
<line x1="420.30" y1="355.30" x2="420.30" y2="359.30" stroke="#b0163e" stroke-width="0.8"/>
<line x1="419.30" y1="355.30" x2="421.30" y2="355.30" stroke="#b0163e" stroke-width="0.7"/>
<line x1="430.10" y1="353.30" x2="430.10" y2="359.30" stroke="#b0163e" stroke-width="0.8"/>
<line x1="429.10" y1="353.30" x2="431.10" y2="353.30" stroke="#b0163e" stroke-width="0.7"/>
<line x1="420.30" y1="346.30" x2="430.10" y2="350.30" stroke="#2a2a2a" stroke-width="0.9"/>
<line x1="420.30" y1="348.70" x2="430.10" y2="353.30" stroke="#2a2a2a" stroke-width="0.9"/>
<line x1="420.30" y1="357.30" x2="430.10" y2="357.30" stroke="#2a2a2a" stroke-width="0.9"/>
<rect x="418.70" y="344.70" width="3.20" height="3.20" fill="#1b2f58"/>
<rect x="418.70" y="347.10" width="3.20" height="3.20" fill="#1b2f58"/>
<circle cx="420.30" cy="357.10" r="1.6" fill="#b0163e" stroke="none" stroke-width="1"/>
<rect x="428.50" y="348.70" width="3.20" height="3.20" fill="#1b2f58"/>
<circle cx="430.10" cy="353.30" r="1.6" fill="#b0163e" stroke="none" stroke-width="1"/>
<circle cx="430.10" cy="357.10" r="1.6" fill="#b0163e" stroke="none" stroke-width="1"/>
<text x="459.70" y="319.90" font-size="9" text-anchor="middle" fill="#1e1e1e" textLength="19" lengthAdjust="spacingAndGlyphs" stroke="#1e1e1e" stroke-width="0.18">GMP</text>
<line x1="449.90" y1="325.30" x2="449.90" y2="357.80" stroke="#383838" stroke-width="1.1"/>
<line x1="449.40" y1="357.30" x2="469.40" y2="357.30" stroke="#383838" stroke-width="1.1"/>
<line x1="447.70" y1="357.30" x2="449.90" y2="357.30" stroke="#383838" stroke-width="0.9"/>
<line x1="447.70" y1="350.10" x2="449.90" y2="350.10" stroke="#383838" stroke-width="0.9"/>
<line x1="447.70" y1="342.90" x2="449.90" y2="342.90" stroke="#383838" stroke-width="0.9"/>
<line x1="447.70" y1="335.70" x2="449.90" y2="335.70" stroke="#383838" stroke-width="0.9"/>
<line x1="447.70" y1="328.50" x2="449.90" y2="328.50" stroke="#383838" stroke-width="0.9"/>
<line x1="454.60" y1="357.30" x2="454.60" y2="359.50" stroke="#383838" stroke-width="0.8"/>
<line x1="464.40" y1="357.30" x2="464.40" y2="359.50" stroke="#383838" stroke-width="0.8"/>
<text x="455.00" y="369.10" font-size="7" text-anchor="middle" fill="#333" textLength="3.43" lengthAdjust="spacingAndGlyphs" stroke="#333" stroke-width="0.18">7</text>
<text x="464.70" y="369.10" font-size="7" text-anchor="middle" fill="#333" textLength="3.43" lengthAdjust="spacingAndGlyphs" stroke="#333" stroke-width="0.18">5</text>
<text x="454.90" y="375.90" font-size="6.3" text-anchor="middle" fill="#333" stroke="#333" stroke-width="0.18">(2)</text>
<text x="464.70" y="375.90" font-size="6.3" text-anchor="middle" fill="#333" stroke="#333" stroke-width="0.18">(4)</text>
<line x1="454.60" y1="345.60" x2="464.40" y2="347.60" stroke="#2a2a2a" stroke-width="0.9"/>
<line x1="454.60" y1="350.80" x2="464.40" y2="353.10" stroke="#2a2a2a" stroke-width="0.9"/>
<line x1="454.60" y1="355.80" x2="464.40" y2="357.30" stroke="#2a2a2a" stroke-width="0.9"/>
<circle cx="454.60" cy="345.60" r="1.6" fill="#1b2f58" stroke="none" stroke-width="1"/>
<rect x="453.00" y="349.20" width="3.20" height="3.20" fill="#b0163e"/>
<circle cx="454.60" cy="355.80" r="1.6" fill="#b0163e" stroke="none" stroke-width="1"/>
<circle cx="464.40" cy="347.60" r="1.6" fill="#1b2f58" stroke="none" stroke-width="1"/>
<rect x="462.80" y="351.50" width="3.20" height="3.20" fill="#b0163e"/>
<circle cx="464.40" cy="357.10" r="1.6" fill="#b0163e" stroke="none" stroke-width="1"/>
<line x1="475.00" y1="329.90" x2="485.00" y2="329.90" stroke="#8a8a8a" stroke-width="1"/>
<circle cx="480.00" cy="329.90" r="1.35" fill="#111" stroke="none" stroke-width="1"/>
<text x="488.80" y="332.40" font-size="7.2" text-anchor="start" fill="#3a3a3a" font-style="italic" textLength="23.91" lengthAdjust="spacingAndGlyphs" stroke="#3a3a3a" stroke-width="0.18">BCORL1</text>
<line x1="475.00" y1="337.80" x2="485.00" y2="337.80" stroke="#8a8a8a" stroke-width="1"/>
<circle cx="480.00" cy="337.80" r="1.75" fill="#111" stroke="none" stroke-width="1"/>
<text x="488.80" y="340.30" font-size="7.2" text-anchor="start" fill="#3a3a3a" font-style="italic" textLength="13.5" lengthAdjust="spacingAndGlyphs" stroke="#3a3a3a" stroke-width="0.18">FLT3</text>
<line x1="475.00" y1="346.60" x2="485.00" y2="346.60" stroke="#8a8a8a" stroke-width="1"/>
<circle cx="480.00" cy="346.60" r="1.2" fill="#111" stroke="none" stroke-width="1"/>
<text x="488.80" y="349.10" font-size="7.2" text-anchor="start" fill="#3a3a3a" font-style="italic" textLength="22.14" lengthAdjust="spacingAndGlyphs" stroke="#3a3a3a" stroke-width="0.18">PTPN11</text>
<text x="279.60" y="416.10" font-size="6.6" text-anchor="end" fill="#333" textLength="14.6" lengthAdjust="spacingAndGlyphs" stroke="#333" stroke-width="0.18">Pat 8</text>
<text x="289.20" y="413.40" font-size="7" text-anchor="middle" fill="#262626" textLength="23" lengthAdjust="spacingAndGlyphs" transform="rotate(-90 289.2 413.4)" stroke="#262626" stroke-width="0.25">VAF (%)</text>
<text x="323.80" y="392.00" font-size="9" text-anchor="middle" fill="#1e1e1e" textLength="19.6" lengthAdjust="spacingAndGlyphs" stroke="#1e1e1e" stroke-width="0.18">MNC</text>
<line x1="314.00" y1="397.40" x2="314.00" y2="429.90" stroke="#383838" stroke-width="1.1"/>
<line x1="313.50" y1="429.40" x2="333.50" y2="429.40" stroke="#383838" stroke-width="1.1"/>
<line x1="311.80" y1="429.40" x2="314.00" y2="429.40" stroke="#383838" stroke-width="0.9"/>
<text x="308.10" y="431.70" font-size="6.5" text-anchor="end" fill="#262626" stroke="#262626" stroke-width="0.18">0.01</text>
<line x1="311.80" y1="422.20" x2="314.00" y2="422.20" stroke="#383838" stroke-width="0.9"/>
<text x="308.10" y="424.50" font-size="6.5" text-anchor="end" fill="#262626" stroke="#262626" stroke-width="0.18">0.1</text>
<line x1="311.80" y1="415.00" x2="314.00" y2="415.00" stroke="#383838" stroke-width="0.9"/>
<text x="308.10" y="417.30" font-size="6.5" text-anchor="end" fill="#262626" stroke="#262626" stroke-width="0.18">1</text>
<line x1="311.80" y1="407.80" x2="314.00" y2="407.80" stroke="#383838" stroke-width="0.9"/>
<text x="308.10" y="410.10" font-size="6.5" text-anchor="end" fill="#262626" stroke="#262626" stroke-width="0.18">10</text>
<line x1="311.80" y1="400.60" x2="314.00" y2="400.60" stroke="#383838" stroke-width="0.9"/>
<text x="308.10" y="402.90" font-size="6.5" text-anchor="end" fill="#262626" stroke="#262626" stroke-width="0.18">100</text>
<line x1="318.70" y1="429.40" x2="318.70" y2="431.60" stroke="#383838" stroke-width="0.8"/>
<line x1="328.50" y1="429.40" x2="328.50" y2="431.60" stroke="#383838" stroke-width="0.8"/>
<text x="319.10" y="441.20" font-size="7" text-anchor="middle" fill="#333" textLength="3.43" lengthAdjust="spacingAndGlyphs" stroke="#333" stroke-width="0.18">5</text>
<text x="328.80" y="441.20" font-size="7" text-anchor="middle" fill="#333" textLength="3.43" lengthAdjust="spacingAndGlyphs" stroke="#333" stroke-width="0.18">2</text>
<text x="324.60" y="448.00" font-size="6.3" text-anchor="middle" fill="#333" textLength="18.15" lengthAdjust="spacingAndGlyphs" stroke="#333" stroke-width="0.18">(9)(12)</text>
<line x1="318.70" y1="423.90" x2="318.70" y2="429.40" stroke="#b0163e" stroke-width="0.8"/>
<line x1="317.70" y1="423.90" x2="319.70" y2="423.90" stroke="#b0163e" stroke-width="0.7"/>
<line x1="318.70" y1="428.50" x2="328.50" y2="412.30" stroke="#2a2a2a" stroke-width="0.9"/>
<circle cx="318.70" cy="428.50" r="2.1" fill="#b0163e" stroke="none" stroke-width="1"/>
<rect x="326.90" y="410.70" width="3.20" height="3.20" fill="#1b2f58"/>
<text x="357.20" y="392.00" font-size="9" text-anchor="middle" fill="#1e1e1e" textLength="22" lengthAdjust="spacingAndGlyphs" stroke="#1e1e1e" stroke-width="0.18">LMPP</text>
<line x1="347.40" y1="397.40" x2="347.40" y2="429.90" stroke="#383838" stroke-width="1.1"/>
<line x1="346.90" y1="429.40" x2="366.90" y2="429.40" stroke="#383838" stroke-width="1.1"/>
<line x1="345.20" y1="429.40" x2="347.40" y2="429.40" stroke="#383838" stroke-width="0.9"/>
<line x1="345.20" y1="422.20" x2="347.40" y2="422.20" stroke="#383838" stroke-width="0.9"/>
<line x1="345.20" y1="415.00" x2="347.40" y2="415.00" stroke="#383838" stroke-width="0.9"/>
<line x1="345.20" y1="407.80" x2="347.40" y2="407.80" stroke="#383838" stroke-width="0.9"/>
<line x1="345.20" y1="400.60" x2="347.40" y2="400.60" stroke="#383838" stroke-width="0.9"/>
<line x1="352.10" y1="429.40" x2="352.10" y2="431.60" stroke="#383838" stroke-width="0.8"/>
<line x1="361.90" y1="429.40" x2="361.90" y2="431.60" stroke="#383838" stroke-width="0.8"/>
<text x="352.50" y="441.20" font-size="7" text-anchor="middle" fill="#333" textLength="3.43" lengthAdjust="spacingAndGlyphs" stroke="#333" stroke-width="0.18">5</text>
<text x="362.20" y="441.20" font-size="7" text-anchor="middle" fill="#333" textLength="3.43" lengthAdjust="spacingAndGlyphs" stroke="#333" stroke-width="0.18">2</text>
<text x="358.00" y="448.00" font-size="6.3" text-anchor="middle" fill="#333" textLength="18.15" lengthAdjust="spacingAndGlyphs" stroke="#333" stroke-width="0.18">(9)(12)</text>
<line x1="352.10" y1="423.90" x2="352.10" y2="429.40" stroke="#b0163e" stroke-width="0.8"/>
<line x1="351.10" y1="423.90" x2="353.10" y2="423.90" stroke="#b0163e" stroke-width="0.7"/>
<line x1="352.10" y1="428.50" x2="361.90" y2="402.80" stroke="#2a2a2a" stroke-width="0.9"/>
<circle cx="352.10" cy="428.50" r="2" fill="#b0163e" stroke="none" stroke-width="1"/>
<rect x="360.30" y="401.20" width="3.20" height="3.20" fill="#1b2f58"/>
<rect x="360.30" y="402.80" width="3.20" height="3.20" fill="#1b2f58"/>
<text x="391.20" y="392.00" font-size="9" text-anchor="middle" fill="#1e1e1e" textLength="17.8" lengthAdjust="spacingAndGlyphs" stroke="#1e1e1e" stroke-width="0.18">CMP</text>
<line x1="381.40" y1="397.40" x2="381.40" y2="429.90" stroke="#383838" stroke-width="1.1"/>
<line x1="380.90" y1="429.40" x2="400.90" y2="429.40" stroke="#383838" stroke-width="1.1"/>
<line x1="379.20" y1="429.40" x2="381.40" y2="429.40" stroke="#383838" stroke-width="0.9"/>
<line x1="379.20" y1="422.20" x2="381.40" y2="422.20" stroke="#383838" stroke-width="0.9"/>
<line x1="379.20" y1="415.00" x2="381.40" y2="415.00" stroke="#383838" stroke-width="0.9"/>
<line x1="379.20" y1="407.80" x2="381.40" y2="407.80" stroke="#383838" stroke-width="0.9"/>
<line x1="379.20" y1="400.60" x2="381.40" y2="400.60" stroke="#383838" stroke-width="0.9"/>
<line x1="386.10" y1="429.40" x2="386.10" y2="431.60" stroke="#383838" stroke-width="0.8"/>
<line x1="395.90" y1="429.40" x2="395.90" y2="431.60" stroke="#383838" stroke-width="0.8"/>
<text x="386.50" y="441.20" font-size="7" text-anchor="middle" fill="#333" textLength="3.43" lengthAdjust="spacingAndGlyphs" stroke="#333" stroke-width="0.18">5</text>
<text x="396.20" y="441.20" font-size="7" text-anchor="middle" fill="#333" textLength="3.43" lengthAdjust="spacingAndGlyphs" stroke="#333" stroke-width="0.18">2</text>
<text x="392.00" y="448.00" font-size="6.3" text-anchor="middle" fill="#333" textLength="18.15" lengthAdjust="spacingAndGlyphs" stroke="#333" stroke-width="0.18">(9)(12)</text>
<line x1="386.10" y1="423.90" x2="386.10" y2="429.40" stroke="#b0163e" stroke-width="0.8"/>
<line x1="385.10" y1="423.90" x2="387.10" y2="423.90" stroke="#b0163e" stroke-width="0.7"/>
<line x1="386.10" y1="428.50" x2="395.90" y2="408.50" stroke="#2a2a2a" stroke-width="0.9"/>
<circle cx="386.10" cy="428.50" r="2" fill="#b0163e" stroke="none" stroke-width="1"/>
<circle cx="395.90" cy="408.50" r="1.6" fill="#1b2f58" stroke="none" stroke-width="1"/>
<text x="425.40" y="392.00" font-size="9" text-anchor="middle" fill="#1e1e1e" textLength="19" lengthAdjust="spacingAndGlyphs" stroke="#1e1e1e" stroke-width="0.18">GMP</text>
<line x1="415.60" y1="397.40" x2="415.60" y2="429.90" stroke="#383838" stroke-width="1.1"/>
<line x1="415.10" y1="429.40" x2="435.10" y2="429.40" stroke="#383838" stroke-width="1.1"/>
<line x1="413.40" y1="429.40" x2="415.60" y2="429.40" stroke="#383838" stroke-width="0.9"/>
<line x1="413.40" y1="422.20" x2="415.60" y2="422.20" stroke="#383838" stroke-width="0.9"/>
<line x1="413.40" y1="415.00" x2="415.60" y2="415.00" stroke="#383838" stroke-width="0.9"/>
<line x1="413.40" y1="407.80" x2="415.60" y2="407.80" stroke="#383838" stroke-width="0.9"/>
<line x1="413.40" y1="400.60" x2="415.60" y2="400.60" stroke="#383838" stroke-width="0.9"/>
<line x1="420.30" y1="429.40" x2="420.30" y2="431.60" stroke="#383838" stroke-width="0.8"/>
<line x1="430.10" y1="429.40" x2="430.10" y2="431.60" stroke="#383838" stroke-width="0.8"/>
<text x="420.70" y="441.20" font-size="7" text-anchor="middle" fill="#333" textLength="3.43" lengthAdjust="spacingAndGlyphs" stroke="#333" stroke-width="0.18">5</text>
<text x="430.40" y="441.20" font-size="7" text-anchor="middle" fill="#333" textLength="3.43" lengthAdjust="spacingAndGlyphs" stroke="#333" stroke-width="0.18">2</text>
<text x="426.20" y="448.00" font-size="6.3" text-anchor="middle" fill="#333" textLength="18.15" lengthAdjust="spacingAndGlyphs" stroke="#333" stroke-width="0.18">(9)(12)</text>
<line x1="420.30" y1="410.30" x2="430.10" y2="402.40" stroke="#2a2a2a" stroke-width="0.9"/>
<rect x="418.70" y="408.70" width="3.20" height="3.20" fill="#1b2f58"/>
<rect x="428.50" y="399.70" width="3.20" height="3.20" fill="#1b2f58"/>
<rect x="428.50" y="402.00" width="3.20" height="3.20" fill="#1b2f58"/>
<text x="459.70" y="392.00" font-size="9" text-anchor="middle" fill="#1e1e1e" textLength="17.5" lengthAdjust="spacingAndGlyphs" stroke="#1e1e1e" stroke-width="0.18">MEP</text>
<line x1="449.90" y1="397.40" x2="449.90" y2="429.90" stroke="#383838" stroke-width="1.1"/>
<line x1="449.40" y1="429.40" x2="469.40" y2="429.40" stroke="#383838" stroke-width="1.1"/>
<line x1="447.70" y1="429.40" x2="449.90" y2="429.40" stroke="#383838" stroke-width="0.9"/>
<line x1="447.70" y1="422.20" x2="449.90" y2="422.20" stroke="#383838" stroke-width="0.9"/>
<line x1="447.70" y1="415.00" x2="449.90" y2="415.00" stroke="#383838" stroke-width="0.9"/>
<line x1="447.70" y1="407.80" x2="449.90" y2="407.80" stroke="#383838" stroke-width="0.9"/>
<line x1="447.70" y1="400.60" x2="449.90" y2="400.60" stroke="#383838" stroke-width="0.9"/>
<line x1="454.60" y1="429.40" x2="454.60" y2="431.60" stroke="#383838" stroke-width="0.8"/>
<line x1="464.40" y1="429.40" x2="464.40" y2="431.60" stroke="#383838" stroke-width="0.8"/>
<text x="455.00" y="441.20" font-size="7" text-anchor="middle" fill="#333" textLength="3.43" lengthAdjust="spacingAndGlyphs" stroke="#333" stroke-width="0.18">5</text>
<text x="464.70" y="441.20" font-size="7" text-anchor="middle" fill="#333" textLength="3.43" lengthAdjust="spacingAndGlyphs" stroke="#333" stroke-width="0.18">2</text>
<text x="460.50" y="448.00" font-size="6.3" text-anchor="middle" fill="#333" textLength="18.15" lengthAdjust="spacingAndGlyphs" stroke="#333" stroke-width="0.18">(9)(12)</text>
<line x1="454.60" y1="429.40" x2="464.40" y2="409.80" stroke="#2a2a2a" stroke-width="0.9"/>
<circle cx="454.60" cy="429.20" r="1.6" fill="#b0163e" stroke="none" stroke-width="1"/>
<circle cx="464.40" cy="409.80" r="1.6" fill="#1b2f58" stroke="none" stroke-width="1"/>
<rect x="462.80" y="409.00" width="3.20" height="3.20" fill="#1b2f58"/>
<line x1="475.00" y1="403.30" x2="485.00" y2="403.30" stroke="#8a8a8a" stroke-width="1"/>
<circle cx="480.00" cy="403.30" r="1.35" fill="#111" stroke="none" stroke-width="1"/>
<text x="488.80" y="405.80" font-size="7.2" text-anchor="start" fill="#3a3a3a" font-style="italic" textLength="19.15" lengthAdjust="spacingAndGlyphs" stroke="#3a3a3a" stroke-width="0.18">STAG2</text>
<line x1="475.00" y1="411.10" x2="485.00" y2="411.10" stroke="#8a8a8a" stroke-width="1"/>
<circle cx="480.00" cy="411.10" r="1.75" fill="#111" stroke="none" stroke-width="1"/>
<text x="488.80" y="413.60" font-size="7.2" text-anchor="start" fill="#3a3a3a" font-style="italic" textLength="14.61" lengthAdjust="spacingAndGlyphs" stroke="#3a3a3a" stroke-width="0.18">TET2</text>
<text x="312.00" y="460.80" font-size="8.2" text-anchor="start" fill="#262626" textLength="158.4" lengthAdjust="spacingAndGlyphs" stroke="#262626" stroke-width="0.18">Months prior to relapse (months post tranplantation)</text>
<rect x="0.5" y="0.5" width="519" height="469" fill="none" stroke="#555" stroke-width="1.1"/>
</svg>
</body></html>
